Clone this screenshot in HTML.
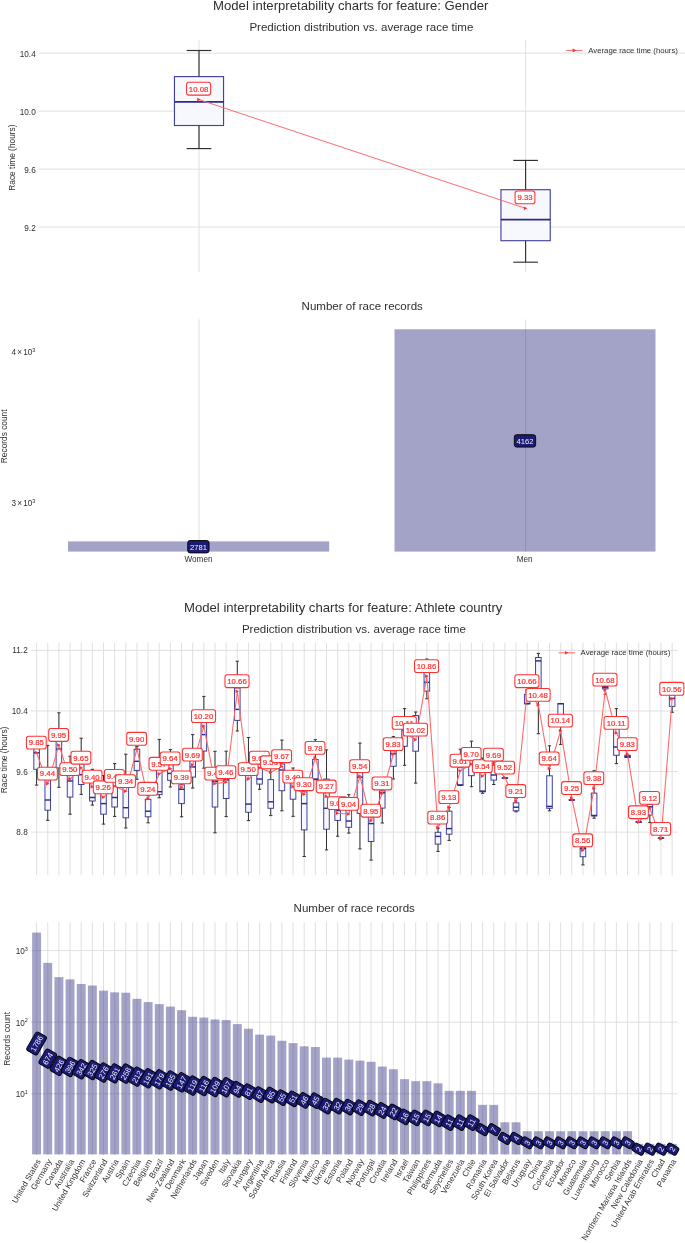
<!DOCTYPE html>
<html><head><meta charset="utf-8"><title>Model interpretability charts</title>
<style>html,body{margin:0;padding:0;background:#fff}svg{display:block}</style></head>
<body>
<svg width="685" height="1243" viewBox="0 0 685 1243" font-family='"Liberation Sans", sans-serif'>
<rect width="685" height="1243" fill="#fff"/>
<text x="350.70" y="9.70" font-size="13.15" text-anchor="middle" fill="#303030" >Model interpretability charts for feature: Gender</text>
<text x="361.40" y="30.70" font-size="11.56" text-anchor="middle" fill="#303030" >Prediction distribution vs. average race time</text>
<line x1="38.90" y1="53.10" x2="685.50" y2="53.10" stroke="#dcdcdc" stroke-width="0.9"/>
<text x="35.70" y="56.70" font-size="8.2" text-anchor="end" fill="#303030" >10.4</text>
<line x1="38.90" y1="111.20" x2="685.50" y2="111.20" stroke="#dcdcdc" stroke-width="0.9"/>
<text x="35.70" y="114.80" font-size="8.2" text-anchor="end" fill="#303030" >10.0</text>
<line x1="38.90" y1="169.20" x2="685.50" y2="169.20" stroke="#dcdcdc" stroke-width="0.9"/>
<text x="35.70" y="172.80" font-size="8.2" text-anchor="end" fill="#303030" >9.6</text>
<line x1="38.90" y1="227.00" x2="685.50" y2="227.00" stroke="#dcdcdc" stroke-width="0.9"/>
<text x="35.70" y="230.60" font-size="8.2" text-anchor="end" fill="#303030" >9.2</text>
<line x1="199.00" y1="40.20" x2="199.00" y2="272.50" stroke="#dcdcdc" stroke-width="0.9"/>
<line x1="525.60" y1="40.20" x2="525.60" y2="272.50" stroke="#dcdcdc" stroke-width="0.9"/>
<text transform="translate(14.90,157.60) rotate(-90)" font-size="8.33" text-anchor="middle" fill="#303030">Race time (hours)</text>
<rect x="174.45" y="76.60" width="49.10" height="48.90" fill="#f7f7fe" stroke="#43439a" stroke-width="1.15"/>
<line x1="199.00" y1="50.50" x2="199.00" y2="76.60" stroke="#303030" stroke-width="1.15"/>
<line x1="199.00" y1="125.50" x2="199.00" y2="148.60" stroke="#303030" stroke-width="1.15"/>
<line x1="186.72" y1="50.50" x2="211.28" y2="50.50" stroke="#303030" stroke-width="1.15"/>
<line x1="186.72" y1="148.60" x2="211.28" y2="148.60" stroke="#303030" stroke-width="1.15"/>
<line x1="174.45" y1="101.80" x2="223.55" y2="101.80" stroke="#2b2b88" stroke-width="1.8"/>
<rect x="500.95" y="189.70" width="49.30" height="51.00" fill="#f7f7fe" stroke="#43439a" stroke-width="1.15"/>
<line x1="525.60" y1="160.40" x2="525.60" y2="189.70" stroke="#303030" stroke-width="1.15"/>
<line x1="525.60" y1="240.70" x2="525.60" y2="262.20" stroke="#303030" stroke-width="1.15"/>
<line x1="513.27" y1="160.40" x2="537.93" y2="160.40" stroke="#303030" stroke-width="1.15"/>
<line x1="513.27" y1="262.20" x2="537.93" y2="262.20" stroke="#303030" stroke-width="1.15"/>
<line x1="500.95" y1="219.60" x2="550.25" y2="219.60" stroke="#2b2b88" stroke-width="1.8"/>
<polyline points="199.00,99.60 525.60,208.35" fill="none" stroke="#ff6a6a" stroke-width="1"/>
<polygon points="197.20,97.80 197.20,101.40 200.80,99.60" fill="#ff3030"/>
<polygon points="523.80,206.55 523.80,210.15 527.40,208.35" fill="#ff3030"/>
<rect x="186.58" y="82.30" width="24.04" height="12.8" rx="2.3" fill="#fff" stroke="#ff3030" stroke-width="1.05"/>
<text x="198.60" y="91.55" font-size="7.800000000000001" text-anchor="middle" fill="#ff3030" stroke="#ff3030" stroke-width="0.22">10.08</text>
<rect x="515.11" y="191.00" width="19.79" height="12.8" rx="2.3" fill="#fff" stroke="#ff3030" stroke-width="1.05"/>
<text x="525.00" y="200.25" font-size="7.800000000000001" text-anchor="middle" fill="#ff3030" stroke="#ff3030" stroke-width="0.22">9.33</text>
<line x1="566.30" y1="50.40" x2="582.60" y2="50.40" stroke="#ff6a6a" stroke-width="1.0"/>
<polygon points="572.65,48.60 572.65,52.20 576.25,50.40" fill="#ff3030"/>
<text x="588.30" y="53.05" font-size="7.78" text-anchor="start" fill="#303030" >Average race time (hours)</text>
<text x="362.20" y="310.20" font-size="11.56" text-anchor="middle" fill="#303030" >Number of race records</text>
<line x1="199.00" y1="319.30" x2="199.00" y2="551.60" stroke="#dcdcdc" stroke-width="0.9"/>
<line x1="525.60" y1="319.30" x2="525.60" y2="551.60" stroke="#dcdcdc" stroke-width="0.9"/>
<text x="35.40" y="354.70" font-size="8.2" text-anchor="end" fill="#303030">4<tspan dx="-1.1"> ×</tspan><tspan dx="-1.1"> 10</tspan><tspan font-size="5.6" dy="-3.2">3</tspan></text>
<text x="35.40" y="505.70" font-size="8.2" text-anchor="end" fill="#303030">3<tspan dx="-1.1"> ×</tspan><tspan dx="-1.1"> 10</tspan><tspan font-size="5.6" dy="-3.2">3</tspan></text>
<text transform="translate(6.50,436.30) rotate(-90)" font-size="8.33" text-anchor="middle" fill="#303030">Records count</text>
<rect x="68.0" y="541.4" width="261.2" height="10.20" fill="#a3a3c7"/>
<rect x="394.5" y="329.3" width="261.0" height="222.30" fill="#a3a3c7"/>
<line x1="199.00" y1="541.40" x2="199.00" y2="551.60" stroke="#8e8eb4" stroke-width="0.9"/>
<line x1="525.60" y1="329.30" x2="525.60" y2="551.60" stroke="#8e8eb4" stroke-width="0.9"/>
<g><rect x="187.74" y="540.50" width="21.31" height="12.4" rx="2.3" fill="#1b1b74" stroke="#000" stroke-width="0.9"/>
<text x="198.40" y="549.50" font-size="7.65" text-anchor="middle" fill="#f0f0fa" >2781</text>
</g>
<g><rect x="514.34" y="434.70" width="21.31" height="12.4" rx="2.3" fill="#1b1b74" stroke="#000" stroke-width="0.9"/>
<text x="525.00" y="443.70" font-size="7.65" text-anchor="middle" fill="#f0f0fa" >4162</text>
</g>
<text x="198.50" y="561.70" font-size="8.2" text-anchor="middle" fill="#303030" >Women</text>
<text x="524.70" y="561.80" font-size="8.2" text-anchor="middle" fill="#303030" >Men</text>
<text x="343.20" y="612.10" font-size="13.15" text-anchor="middle" fill="#303030" >Model interpretability charts for feature: Athlete country</text>
<text x="353.90" y="633.40" font-size="11.56" text-anchor="middle" fill="#303030" >Prediction distribution vs. average race time</text>
<line x1="31.00" y1="650.35" x2="677.70" y2="650.35" stroke="#dcdcdc" stroke-width="0.9"/>
<text x="27.70" y="653.30" font-size="8.2" text-anchor="end" fill="#303030" >11.2</text>
<line x1="31.00" y1="710.95" x2="677.70" y2="710.95" stroke="#dcdcdc" stroke-width="0.9"/>
<text x="27.70" y="713.90" font-size="8.2" text-anchor="end" fill="#303030" >10.4</text>
<line x1="31.00" y1="771.55" x2="677.70" y2="771.55" stroke="#dcdcdc" stroke-width="0.9"/>
<text x="27.70" y="774.50" font-size="8.2" text-anchor="end" fill="#303030" >9.6</text>
<line x1="31.00" y1="832.15" x2="677.70" y2="832.15" stroke="#dcdcdc" stroke-width="0.9"/>
<text x="27.70" y="835.10" font-size="8.2" text-anchor="end" fill="#303030" >8.8</text>
<line x1="36.60" y1="642.80" x2="36.60" y2="875.30" stroke="#dcdcdc" stroke-width="0.9"/>
<line x1="47.75" y1="642.80" x2="47.75" y2="875.30" stroke="#dcdcdc" stroke-width="0.9"/>
<line x1="58.90" y1="642.80" x2="58.90" y2="875.30" stroke="#dcdcdc" stroke-width="0.9"/>
<line x1="70.05" y1="642.80" x2="70.05" y2="875.30" stroke="#dcdcdc" stroke-width="0.9"/>
<line x1="81.20" y1="642.80" x2="81.20" y2="875.30" stroke="#dcdcdc" stroke-width="0.9"/>
<line x1="92.35" y1="642.80" x2="92.35" y2="875.30" stroke="#dcdcdc" stroke-width="0.9"/>
<line x1="103.50" y1="642.80" x2="103.50" y2="875.30" stroke="#dcdcdc" stroke-width="0.9"/>
<line x1="114.65" y1="642.80" x2="114.65" y2="875.30" stroke="#dcdcdc" stroke-width="0.9"/>
<line x1="125.80" y1="642.80" x2="125.80" y2="875.30" stroke="#dcdcdc" stroke-width="0.9"/>
<line x1="136.95" y1="642.80" x2="136.95" y2="875.30" stroke="#dcdcdc" stroke-width="0.9"/>
<line x1="148.10" y1="642.80" x2="148.10" y2="875.30" stroke="#dcdcdc" stroke-width="0.9"/>
<line x1="159.25" y1="642.80" x2="159.25" y2="875.30" stroke="#dcdcdc" stroke-width="0.9"/>
<line x1="170.40" y1="642.80" x2="170.40" y2="875.30" stroke="#dcdcdc" stroke-width="0.9"/>
<line x1="181.55" y1="642.80" x2="181.55" y2="875.30" stroke="#dcdcdc" stroke-width="0.9"/>
<line x1="192.70" y1="642.80" x2="192.70" y2="875.30" stroke="#dcdcdc" stroke-width="0.9"/>
<line x1="203.85" y1="642.80" x2="203.85" y2="875.30" stroke="#dcdcdc" stroke-width="0.9"/>
<line x1="215.00" y1="642.80" x2="215.00" y2="875.30" stroke="#dcdcdc" stroke-width="0.9"/>
<line x1="226.15" y1="642.80" x2="226.15" y2="875.30" stroke="#dcdcdc" stroke-width="0.9"/>
<line x1="237.30" y1="642.80" x2="237.30" y2="875.30" stroke="#dcdcdc" stroke-width="0.9"/>
<line x1="248.45" y1="642.80" x2="248.45" y2="875.30" stroke="#dcdcdc" stroke-width="0.9"/>
<line x1="259.60" y1="642.80" x2="259.60" y2="875.30" stroke="#dcdcdc" stroke-width="0.9"/>
<line x1="270.75" y1="642.80" x2="270.75" y2="875.30" stroke="#dcdcdc" stroke-width="0.9"/>
<line x1="281.90" y1="642.80" x2="281.90" y2="875.30" stroke="#dcdcdc" stroke-width="0.9"/>
<line x1="293.05" y1="642.80" x2="293.05" y2="875.30" stroke="#dcdcdc" stroke-width="0.9"/>
<line x1="304.20" y1="642.80" x2="304.20" y2="875.30" stroke="#dcdcdc" stroke-width="0.9"/>
<line x1="315.35" y1="642.80" x2="315.35" y2="875.30" stroke="#dcdcdc" stroke-width="0.9"/>
<line x1="326.50" y1="642.80" x2="326.50" y2="875.30" stroke="#dcdcdc" stroke-width="0.9"/>
<line x1="337.65" y1="642.80" x2="337.65" y2="875.30" stroke="#dcdcdc" stroke-width="0.9"/>
<line x1="348.80" y1="642.80" x2="348.80" y2="875.30" stroke="#dcdcdc" stroke-width="0.9"/>
<line x1="359.95" y1="642.80" x2="359.95" y2="875.30" stroke="#dcdcdc" stroke-width="0.9"/>
<line x1="371.10" y1="642.80" x2="371.10" y2="875.30" stroke="#dcdcdc" stroke-width="0.9"/>
<line x1="382.25" y1="642.80" x2="382.25" y2="875.30" stroke="#dcdcdc" stroke-width="0.9"/>
<line x1="393.40" y1="642.80" x2="393.40" y2="875.30" stroke="#dcdcdc" stroke-width="0.9"/>
<line x1="404.55" y1="642.80" x2="404.55" y2="875.30" stroke="#dcdcdc" stroke-width="0.9"/>
<line x1="415.70" y1="642.80" x2="415.70" y2="875.30" stroke="#dcdcdc" stroke-width="0.9"/>
<line x1="426.85" y1="642.80" x2="426.85" y2="875.30" stroke="#dcdcdc" stroke-width="0.9"/>
<line x1="438.00" y1="642.80" x2="438.00" y2="875.30" stroke="#dcdcdc" stroke-width="0.9"/>
<line x1="449.15" y1="642.80" x2="449.15" y2="875.30" stroke="#dcdcdc" stroke-width="0.9"/>
<line x1="460.30" y1="642.80" x2="460.30" y2="875.30" stroke="#dcdcdc" stroke-width="0.9"/>
<line x1="471.45" y1="642.80" x2="471.45" y2="875.30" stroke="#dcdcdc" stroke-width="0.9"/>
<line x1="482.60" y1="642.80" x2="482.60" y2="875.30" stroke="#dcdcdc" stroke-width="0.9"/>
<line x1="493.75" y1="642.80" x2="493.75" y2="875.30" stroke="#dcdcdc" stroke-width="0.9"/>
<line x1="504.90" y1="642.80" x2="504.90" y2="875.30" stroke="#dcdcdc" stroke-width="0.9"/>
<line x1="516.05" y1="642.80" x2="516.05" y2="875.30" stroke="#dcdcdc" stroke-width="0.9"/>
<line x1="527.20" y1="642.80" x2="527.20" y2="875.30" stroke="#dcdcdc" stroke-width="0.9"/>
<line x1="538.35" y1="642.80" x2="538.35" y2="875.30" stroke="#dcdcdc" stroke-width="0.9"/>
<line x1="549.50" y1="642.80" x2="549.50" y2="875.30" stroke="#dcdcdc" stroke-width="0.9"/>
<line x1="560.65" y1="642.80" x2="560.65" y2="875.30" stroke="#dcdcdc" stroke-width="0.9"/>
<line x1="571.80" y1="642.80" x2="571.80" y2="875.30" stroke="#dcdcdc" stroke-width="0.9"/>
<line x1="582.95" y1="642.80" x2="582.95" y2="875.30" stroke="#dcdcdc" stroke-width="0.9"/>
<line x1="594.10" y1="642.80" x2="594.10" y2="875.30" stroke="#dcdcdc" stroke-width="0.9"/>
<line x1="605.25" y1="642.80" x2="605.25" y2="875.30" stroke="#dcdcdc" stroke-width="0.9"/>
<line x1="616.40" y1="642.80" x2="616.40" y2="875.30" stroke="#dcdcdc" stroke-width="0.9"/>
<line x1="627.55" y1="642.80" x2="627.55" y2="875.30" stroke="#dcdcdc" stroke-width="0.9"/>
<line x1="638.70" y1="642.80" x2="638.70" y2="875.30" stroke="#dcdcdc" stroke-width="0.9"/>
<line x1="649.85" y1="642.80" x2="649.85" y2="875.30" stroke="#dcdcdc" stroke-width="0.9"/>
<line x1="661.00" y1="642.80" x2="661.00" y2="875.30" stroke="#dcdcdc" stroke-width="0.9"/>
<line x1="672.15" y1="642.80" x2="672.15" y2="875.30" stroke="#dcdcdc" stroke-width="0.9"/>
<text transform="translate(6.70,759.90) rotate(-90)" font-size="8.4" text-anchor="middle" fill="#303030">Race time (hours)</text>
<rect x="33.81" y="745.00" width="5.58" height="24.30" fill="#f7f7fe" stroke="#43439a" stroke-width="1.0"/>
<line x1="36.60" y1="738.00" x2="36.60" y2="745.00" stroke="#303030" stroke-width="1.0"/>
<line x1="36.60" y1="769.30" x2="36.60" y2="785.10" stroke="#303030" stroke-width="1.0"/>
<line x1="34.93" y1="738.00" x2="38.27" y2="738.00" stroke="#303030" stroke-width="1.0"/>
<line x1="34.93" y1="785.10" x2="38.27" y2="785.10" stroke="#303030" stroke-width="1.0"/>
<line x1="33.81" y1="752.80" x2="39.39" y2="752.80" stroke="#2b2b88" stroke-width="1.45"/>
<rect x="44.96" y="770.00" width="5.58" height="40.20" fill="#f7f7fe" stroke="#43439a" stroke-width="1.0"/>
<line x1="47.75" y1="745.40" x2="47.75" y2="770.00" stroke="#303030" stroke-width="1.0"/>
<line x1="47.75" y1="810.20" x2="47.75" y2="820.30" stroke="#303030" stroke-width="1.0"/>
<line x1="46.08" y1="745.40" x2="49.42" y2="745.40" stroke="#303030" stroke-width="1.0"/>
<line x1="46.08" y1="820.30" x2="49.42" y2="820.30" stroke="#303030" stroke-width="1.0"/>
<line x1="44.96" y1="800.00" x2="50.54" y2="800.00" stroke="#2b2b88" stroke-width="1.45"/>
<rect x="56.11" y="741.00" width="5.58" height="26.90" fill="#f7f7fe" stroke="#43439a" stroke-width="1.0"/>
<line x1="58.90" y1="712.80" x2="58.90" y2="741.00" stroke="#303030" stroke-width="1.0"/>
<line x1="58.90" y1="767.90" x2="58.90" y2="787.30" stroke="#303030" stroke-width="1.0"/>
<line x1="57.23" y1="712.80" x2="60.57" y2="712.80" stroke="#303030" stroke-width="1.0"/>
<line x1="57.23" y1="787.30" x2="60.57" y2="787.30" stroke="#303030" stroke-width="1.0"/>
<line x1="56.11" y1="748.90" x2="61.69" y2="748.90" stroke="#2b2b88" stroke-width="1.45"/>
<rect x="67.26" y="768.00" width="5.58" height="29.10" fill="#f7f7fe" stroke="#43439a" stroke-width="1.0"/>
<line x1="70.05" y1="756.20" x2="70.05" y2="768.00" stroke="#303030" stroke-width="1.0"/>
<line x1="70.05" y1="797.10" x2="70.05" y2="814.20" stroke="#303030" stroke-width="1.0"/>
<line x1="68.38" y1="756.20" x2="71.72" y2="756.20" stroke="#303030" stroke-width="1.0"/>
<line x1="68.38" y1="814.20" x2="71.72" y2="814.20" stroke="#303030" stroke-width="1.0"/>
<line x1="67.26" y1="781.00" x2="72.84" y2="781.00" stroke="#2b2b88" stroke-width="1.45"/>
<rect x="78.41" y="762.00" width="5.58" height="22.50" fill="#f7f7fe" stroke="#43439a" stroke-width="1.0"/>
<line x1="81.20" y1="738.20" x2="81.20" y2="762.00" stroke="#303030" stroke-width="1.0"/>
<line x1="81.20" y1="784.50" x2="81.20" y2="794.40" stroke="#303030" stroke-width="1.0"/>
<line x1="79.53" y1="738.20" x2="82.87" y2="738.20" stroke="#303030" stroke-width="1.0"/>
<line x1="79.53" y1="794.40" x2="82.87" y2="794.40" stroke="#303030" stroke-width="1.0"/>
<line x1="78.41" y1="774.70" x2="83.99" y2="774.70" stroke="#2b2b88" stroke-width="1.45"/>
<rect x="89.56" y="775.00" width="5.58" height="26.00" fill="#f7f7fe" stroke="#43439a" stroke-width="1.0"/>
<line x1="92.35" y1="769.30" x2="92.35" y2="775.00" stroke="#303030" stroke-width="1.0"/>
<line x1="92.35" y1="801.00" x2="92.35" y2="805.10" stroke="#303030" stroke-width="1.0"/>
<line x1="90.68" y1="769.30" x2="94.02" y2="769.30" stroke="#303030" stroke-width="1.0"/>
<line x1="90.68" y1="805.10" x2="94.02" y2="805.10" stroke="#303030" stroke-width="1.0"/>
<line x1="89.56" y1="797.50" x2="95.14" y2="797.50" stroke="#2b2b88" stroke-width="1.45"/>
<rect x="100.71" y="786.00" width="5.58" height="28.20" fill="#f7f7fe" stroke="#43439a" stroke-width="1.0"/>
<line x1="103.50" y1="775.60" x2="103.50" y2="786.00" stroke="#303030" stroke-width="1.0"/>
<line x1="103.50" y1="814.20" x2="103.50" y2="824.10" stroke="#303030" stroke-width="1.0"/>
<line x1="101.83" y1="775.60" x2="105.17" y2="775.60" stroke="#303030" stroke-width="1.0"/>
<line x1="101.83" y1="824.10" x2="105.17" y2="824.10" stroke="#303030" stroke-width="1.0"/>
<line x1="100.71" y1="803.60" x2="106.29" y2="803.60" stroke="#2b2b88" stroke-width="1.45"/>
<rect x="111.86" y="776.00" width="5.58" height="31.00" fill="#f7f7fe" stroke="#43439a" stroke-width="1.0"/>
<line x1="114.65" y1="763.60" x2="114.65" y2="776.00" stroke="#303030" stroke-width="1.0"/>
<line x1="114.65" y1="807.00" x2="114.65" y2="816.40" stroke="#303030" stroke-width="1.0"/>
<line x1="112.98" y1="763.60" x2="116.32" y2="763.60" stroke="#303030" stroke-width="1.0"/>
<line x1="112.98" y1="816.40" x2="116.32" y2="816.40" stroke="#303030" stroke-width="1.0"/>
<line x1="111.86" y1="797.50" x2="117.44" y2="797.50" stroke="#2b2b88" stroke-width="1.45"/>
<rect x="123.01" y="782.00" width="5.58" height="35.80" fill="#f7f7fe" stroke="#43439a" stroke-width="1.0"/>
<line x1="125.80" y1="754.20" x2="125.80" y2="782.00" stroke="#303030" stroke-width="1.0"/>
<line x1="125.80" y1="817.80" x2="125.80" y2="828.00" stroke="#303030" stroke-width="1.0"/>
<line x1="124.13" y1="754.20" x2="127.47" y2="754.20" stroke="#303030" stroke-width="1.0"/>
<line x1="124.13" y1="828.00" x2="127.47" y2="828.00" stroke="#303030" stroke-width="1.0"/>
<line x1="123.01" y1="807.70" x2="128.59" y2="807.70" stroke="#2b2b88" stroke-width="1.45"/>
<rect x="134.16" y="749.30" width="5.58" height="21.10" fill="#f7f7fe" stroke="#43439a" stroke-width="1.0"/>
<line x1="136.95" y1="746.40" x2="136.95" y2="749.30" stroke="#303030" stroke-width="1.0"/>
<line x1="136.95" y1="770.40" x2="136.95" y2="779.30" stroke="#303030" stroke-width="1.0"/>
<line x1="135.28" y1="746.40" x2="138.62" y2="746.40" stroke="#303030" stroke-width="1.0"/>
<line x1="135.28" y1="779.30" x2="138.62" y2="779.30" stroke="#303030" stroke-width="1.0"/>
<line x1="134.16" y1="761.30" x2="139.74" y2="761.30" stroke="#2b2b88" stroke-width="1.45"/>
<rect x="145.31" y="799.30" width="5.58" height="17.50" fill="#f7f7fe" stroke="#43439a" stroke-width="1.0"/>
<line x1="148.10" y1="795.60" x2="148.10" y2="799.30" stroke="#303030" stroke-width="1.0"/>
<line x1="148.10" y1="816.80" x2="148.10" y2="822.80" stroke="#303030" stroke-width="1.0"/>
<line x1="146.43" y1="795.60" x2="149.77" y2="795.60" stroke="#303030" stroke-width="1.0"/>
<line x1="146.43" y1="822.80" x2="149.77" y2="822.80" stroke="#303030" stroke-width="1.0"/>
<line x1="145.31" y1="811.20" x2="150.89" y2="811.20" stroke="#2b2b88" stroke-width="1.45"/>
<rect x="156.46" y="768.00" width="5.58" height="26.60" fill="#f7f7fe" stroke="#43439a" stroke-width="1.0"/>
<line x1="159.25" y1="739.40" x2="159.25" y2="768.00" stroke="#303030" stroke-width="1.0"/>
<line x1="159.25" y1="794.60" x2="159.25" y2="797.80" stroke="#303030" stroke-width="1.0"/>
<line x1="157.58" y1="739.40" x2="160.92" y2="739.40" stroke="#303030" stroke-width="1.0"/>
<line x1="157.58" y1="797.80" x2="160.92" y2="797.80" stroke="#303030" stroke-width="1.0"/>
<line x1="156.46" y1="791.70" x2="162.04" y2="791.70" stroke="#2b2b88" stroke-width="1.45"/>
<rect x="167.61" y="764.00" width="5.58" height="16.30" fill="#f7f7fe" stroke="#43439a" stroke-width="1.0"/>
<line x1="170.40" y1="749.60" x2="170.40" y2="764.00" stroke="#303030" stroke-width="1.0"/>
<line x1="170.40" y1="780.30" x2="170.40" y2="787.00" stroke="#303030" stroke-width="1.0"/>
<line x1="168.73" y1="749.60" x2="172.07" y2="749.60" stroke="#303030" stroke-width="1.0"/>
<line x1="168.73" y1="787.00" x2="172.07" y2="787.00" stroke="#303030" stroke-width="1.0"/>
<line x1="167.61" y1="773.40" x2="173.19" y2="773.40" stroke="#2b2b88" stroke-width="1.45"/>
<rect x="178.76" y="784.70" width="5.58" height="18.90" fill="#f7f7fe" stroke="#43439a" stroke-width="1.0"/>
<line x1="181.55" y1="778.00" x2="181.55" y2="784.70" stroke="#303030" stroke-width="1.0"/>
<line x1="181.55" y1="803.60" x2="181.55" y2="816.80" stroke="#303030" stroke-width="1.0"/>
<line x1="179.88" y1="778.00" x2="183.22" y2="778.00" stroke="#303030" stroke-width="1.0"/>
<line x1="179.88" y1="816.80" x2="183.22" y2="816.80" stroke="#303030" stroke-width="1.0"/>
<line x1="178.76" y1="789.30" x2="184.34" y2="789.30" stroke="#2b2b88" stroke-width="1.45"/>
<rect x="189.91" y="759.00" width="5.58" height="18.10" fill="#f7f7fe" stroke="#43439a" stroke-width="1.0"/>
<line x1="192.70" y1="734.60" x2="192.70" y2="759.00" stroke="#303030" stroke-width="1.0"/>
<line x1="192.70" y1="777.10" x2="192.70" y2="788.00" stroke="#303030" stroke-width="1.0"/>
<line x1="191.03" y1="734.60" x2="194.37" y2="734.60" stroke="#303030" stroke-width="1.0"/>
<line x1="191.03" y1="788.00" x2="194.37" y2="788.00" stroke="#303030" stroke-width="1.0"/>
<line x1="189.91" y1="766.90" x2="195.49" y2="766.90" stroke="#2b2b88" stroke-width="1.45"/>
<rect x="201.06" y="721.00" width="5.58" height="30.10" fill="#f7f7fe" stroke="#43439a" stroke-width="1.0"/>
<line x1="203.85" y1="696.40" x2="203.85" y2="721.00" stroke="#303030" stroke-width="1.0"/>
<line x1="203.85" y1="751.10" x2="203.85" y2="768.20" stroke="#303030" stroke-width="1.0"/>
<line x1="202.18" y1="696.40" x2="205.52" y2="696.40" stroke="#303030" stroke-width="1.0"/>
<line x1="202.18" y1="768.20" x2="205.52" y2="768.20" stroke="#303030" stroke-width="1.0"/>
<line x1="201.06" y1="734.60" x2="206.64" y2="734.60" stroke="#2b2b88" stroke-width="1.45"/>
<rect x="212.21" y="780.20" width="5.58" height="26.80" fill="#f7f7fe" stroke="#43439a" stroke-width="1.0"/>
<line x1="215.00" y1="751.30" x2="215.00" y2="780.20" stroke="#303030" stroke-width="1.0"/>
<line x1="215.00" y1="807.00" x2="215.00" y2="832.80" stroke="#303030" stroke-width="1.0"/>
<line x1="213.33" y1="751.30" x2="216.67" y2="751.30" stroke="#303030" stroke-width="1.0"/>
<line x1="213.33" y1="832.80" x2="216.67" y2="832.80" stroke="#303030" stroke-width="1.0"/>
<line x1="212.21" y1="781.60" x2="217.79" y2="781.60" stroke="#2b2b88" stroke-width="1.45"/>
<rect x="223.36" y="778.00" width="5.58" height="20.50" fill="#f7f7fe" stroke="#43439a" stroke-width="1.0"/>
<line x1="226.15" y1="751.20" x2="226.15" y2="778.00" stroke="#303030" stroke-width="1.0"/>
<line x1="226.15" y1="798.50" x2="226.15" y2="816.60" stroke="#303030" stroke-width="1.0"/>
<line x1="224.48" y1="751.20" x2="227.82" y2="751.20" stroke="#303030" stroke-width="1.0"/>
<line x1="224.48" y1="816.60" x2="227.82" y2="816.60" stroke="#303030" stroke-width="1.0"/>
<line x1="223.36" y1="779.90" x2="228.94" y2="779.90" stroke="#2b2b88" stroke-width="1.45"/>
<rect x="234.51" y="688.00" width="5.58" height="32.40" fill="#f7f7fe" stroke="#43439a" stroke-width="1.0"/>
<line x1="237.30" y1="661.20" x2="237.30" y2="688.00" stroke="#303030" stroke-width="1.0"/>
<line x1="237.30" y1="720.40" x2="237.30" y2="731.00" stroke="#303030" stroke-width="1.0"/>
<line x1="235.63" y1="661.20" x2="238.97" y2="661.20" stroke="#303030" stroke-width="1.0"/>
<line x1="235.63" y1="731.00" x2="238.97" y2="731.00" stroke="#303030" stroke-width="1.0"/>
<line x1="234.51" y1="709.40" x2="240.09" y2="709.40" stroke="#2b2b88" stroke-width="1.45"/>
<rect x="245.66" y="775.00" width="5.58" height="37.30" fill="#f7f7fe" stroke="#43439a" stroke-width="1.0"/>
<line x1="248.45" y1="737.60" x2="248.45" y2="775.00" stroke="#303030" stroke-width="1.0"/>
<line x1="248.45" y1="812.30" x2="248.45" y2="820.60" stroke="#303030" stroke-width="1.0"/>
<line x1="246.78" y1="737.60" x2="250.12" y2="737.60" stroke="#303030" stroke-width="1.0"/>
<line x1="246.78" y1="820.60" x2="250.12" y2="820.60" stroke="#303030" stroke-width="1.0"/>
<line x1="245.66" y1="804.10" x2="251.24" y2="804.10" stroke="#2b2b88" stroke-width="1.45"/>
<rect x="256.81" y="764.00" width="5.58" height="20.10" fill="#f7f7fe" stroke="#43439a" stroke-width="1.0"/>
<line x1="259.60" y1="755.00" x2="259.60" y2="764.00" stroke="#303030" stroke-width="1.0"/>
<line x1="259.60" y1="784.10" x2="259.60" y2="789.30" stroke="#303030" stroke-width="1.0"/>
<line x1="257.93" y1="755.00" x2="261.27" y2="755.00" stroke="#303030" stroke-width="1.0"/>
<line x1="257.93" y1="789.30" x2="261.27" y2="789.30" stroke="#303030" stroke-width="1.0"/>
<line x1="256.81" y1="779.00" x2="262.39" y2="779.00" stroke="#2b2b88" stroke-width="1.45"/>
<rect x="267.96" y="779.60" width="5.58" height="28.70" fill="#f7f7fe" stroke="#43439a" stroke-width="1.0"/>
<line x1="270.75" y1="766.00" x2="270.75" y2="779.60" stroke="#303030" stroke-width="1.0"/>
<line x1="270.75" y1="808.30" x2="270.75" y2="815.60" stroke="#303030" stroke-width="1.0"/>
<line x1="269.08" y1="766.00" x2="272.42" y2="766.00" stroke="#303030" stroke-width="1.0"/>
<line x1="269.08" y1="815.60" x2="272.42" y2="815.60" stroke="#303030" stroke-width="1.0"/>
<line x1="267.96" y1="801.80" x2="273.54" y2="801.80" stroke="#2b2b88" stroke-width="1.45"/>
<rect x="279.11" y="764.00" width="5.58" height="26.70" fill="#f7f7fe" stroke="#43439a" stroke-width="1.0"/>
<line x1="281.90" y1="740.10" x2="281.90" y2="764.00" stroke="#303030" stroke-width="1.0"/>
<line x1="281.90" y1="790.70" x2="281.90" y2="810.80" stroke="#303030" stroke-width="1.0"/>
<line x1="280.23" y1="740.10" x2="283.57" y2="740.10" stroke="#303030" stroke-width="1.0"/>
<line x1="280.23" y1="810.80" x2="283.57" y2="810.80" stroke="#303030" stroke-width="1.0"/>
<line x1="279.11" y1="770.00" x2="284.69" y2="770.00" stroke="#2b2b88" stroke-width="1.45"/>
<rect x="290.26" y="777.00" width="5.58" height="22.20" fill="#f7f7fe" stroke="#43439a" stroke-width="1.0"/>
<line x1="293.05" y1="768.00" x2="293.05" y2="777.00" stroke="#303030" stroke-width="1.0"/>
<line x1="293.05" y1="799.20" x2="293.05" y2="816.30" stroke="#303030" stroke-width="1.0"/>
<line x1="291.38" y1="768.00" x2="294.72" y2="768.00" stroke="#303030" stroke-width="1.0"/>
<line x1="291.38" y1="816.30" x2="294.72" y2="816.30" stroke="#303030" stroke-width="1.0"/>
<line x1="290.26" y1="781.00" x2="295.84" y2="781.00" stroke="#2b2b88" stroke-width="1.45"/>
<rect x="301.41" y="791.80" width="5.58" height="38.10" fill="#f7f7fe" stroke="#43439a" stroke-width="1.0"/>
<line x1="304.20" y1="785.00" x2="304.20" y2="791.80" stroke="#303030" stroke-width="1.0"/>
<line x1="304.20" y1="829.90" x2="304.20" y2="856.50" stroke="#303030" stroke-width="1.0"/>
<line x1="302.53" y1="785.00" x2="305.87" y2="785.00" stroke="#303030" stroke-width="1.0"/>
<line x1="302.53" y1="856.50" x2="305.87" y2="856.50" stroke="#303030" stroke-width="1.0"/>
<line x1="301.41" y1="803.60" x2="306.99" y2="803.60" stroke="#2b2b88" stroke-width="1.45"/>
<rect x="312.56" y="759.40" width="5.58" height="20.20" fill="#f7f7fe" stroke="#43439a" stroke-width="1.0"/>
<line x1="315.35" y1="739.70" x2="315.35" y2="759.40" stroke="#303030" stroke-width="1.0"/>
<line x1="313.68" y1="739.70" x2="317.02" y2="739.70" stroke="#303030" stroke-width="1.0"/>
<line x1="313.68" y1="779.60" x2="317.02" y2="779.60" stroke="#303030" stroke-width="1.0"/>
<line x1="312.56" y1="779.10" x2="318.14" y2="779.10" stroke="#2b2b88" stroke-width="1.45"/>
<rect x="323.71" y="779.10" width="5.58" height="50.10" fill="#f7f7fe" stroke="#43439a" stroke-width="1.0"/>
<line x1="326.50" y1="749.90" x2="326.50" y2="779.10" stroke="#303030" stroke-width="1.0"/>
<line x1="326.50" y1="829.20" x2="326.50" y2="849.90" stroke="#303030" stroke-width="1.0"/>
<line x1="324.83" y1="749.90" x2="328.17" y2="749.90" stroke="#303030" stroke-width="1.0"/>
<line x1="324.83" y1="849.90" x2="328.17" y2="849.90" stroke="#303030" stroke-width="1.0"/>
<line x1="323.71" y1="808.30" x2="329.29" y2="808.30" stroke="#2b2b88" stroke-width="1.45"/>
<rect x="334.86" y="809.80" width="5.58" height="10.60" fill="#f7f7fe" stroke="#43439a" stroke-width="1.0"/>
<line x1="337.65" y1="803.00" x2="337.65" y2="809.80" stroke="#303030" stroke-width="1.0"/>
<line x1="337.65" y1="820.40" x2="337.65" y2="836.20" stroke="#303030" stroke-width="1.0"/>
<line x1="335.98" y1="803.00" x2="339.32" y2="803.00" stroke="#303030" stroke-width="1.0"/>
<line x1="335.98" y1="836.20" x2="339.32" y2="836.20" stroke="#303030" stroke-width="1.0"/>
<line x1="334.86" y1="810.50" x2="340.44" y2="810.50" stroke="#2b2b88" stroke-width="1.45"/>
<rect x="346.01" y="809.80" width="5.58" height="17.50" fill="#f7f7fe" stroke="#43439a" stroke-width="1.0"/>
<line x1="348.80" y1="794.70" x2="348.80" y2="809.80" stroke="#303030" stroke-width="1.0"/>
<line x1="348.80" y1="827.30" x2="348.80" y2="833.10" stroke="#303030" stroke-width="1.0"/>
<line x1="347.13" y1="794.70" x2="350.47" y2="794.70" stroke="#303030" stroke-width="1.0"/>
<line x1="347.13" y1="833.10" x2="350.47" y2="833.10" stroke="#303030" stroke-width="1.0"/>
<line x1="346.01" y1="821.00" x2="351.59" y2="821.00" stroke="#2b2b88" stroke-width="1.45"/>
<rect x="357.16" y="772.60" width="5.58" height="40.80" fill="#f7f7fe" stroke="#43439a" stroke-width="1.0"/>
<line x1="359.95" y1="743.10" x2="359.95" y2="772.60" stroke="#303030" stroke-width="1.0"/>
<line x1="359.95" y1="813.40" x2="359.95" y2="848.90" stroke="#303030" stroke-width="1.0"/>
<line x1="358.28" y1="743.10" x2="361.62" y2="743.10" stroke="#303030" stroke-width="1.0"/>
<line x1="358.28" y1="848.90" x2="361.62" y2="848.90" stroke="#303030" stroke-width="1.0"/>
<line x1="357.16" y1="777.20" x2="362.74" y2="777.20" stroke="#2b2b88" stroke-width="1.45"/>
<rect x="368.31" y="817.10" width="5.58" height="24.40" fill="#f7f7fe" stroke="#43439a" stroke-width="1.0"/>
<line x1="371.10" y1="810.00" x2="371.10" y2="817.10" stroke="#303030" stroke-width="1.0"/>
<line x1="371.10" y1="841.50" x2="371.10" y2="860.10" stroke="#303030" stroke-width="1.0"/>
<line x1="369.43" y1="810.00" x2="372.77" y2="810.00" stroke="#303030" stroke-width="1.0"/>
<line x1="369.43" y1="860.10" x2="372.77" y2="860.10" stroke="#303030" stroke-width="1.0"/>
<line x1="368.31" y1="823.60" x2="373.89" y2="823.60" stroke="#2b2b88" stroke-width="1.45"/>
<rect x="379.46" y="790.80" width="5.58" height="17.30" fill="#f7f7fe" stroke="#43439a" stroke-width="1.0"/>
<line x1="382.25" y1="783.00" x2="382.25" y2="790.80" stroke="#303030" stroke-width="1.0"/>
<line x1="382.25" y1="808.10" x2="382.25" y2="823.00" stroke="#303030" stroke-width="1.0"/>
<line x1="380.58" y1="783.00" x2="383.92" y2="783.00" stroke="#303030" stroke-width="1.0"/>
<line x1="380.58" y1="823.00" x2="383.92" y2="823.00" stroke="#303030" stroke-width="1.0"/>
<line x1="379.46" y1="792.60" x2="385.04" y2="792.60" stroke="#2b2b88" stroke-width="1.45"/>
<rect x="390.61" y="750.90" width="5.58" height="15.40" fill="#f7f7fe" stroke="#43439a" stroke-width="1.0"/>
<line x1="393.40" y1="736.60" x2="393.40" y2="750.90" stroke="#303030" stroke-width="1.0"/>
<line x1="393.40" y1="766.30" x2="393.40" y2="779.00" stroke="#303030" stroke-width="1.0"/>
<line x1="391.73" y1="736.60" x2="395.07" y2="736.60" stroke="#303030" stroke-width="1.0"/>
<line x1="391.73" y1="779.00" x2="395.07" y2="779.00" stroke="#303030" stroke-width="1.0"/>
<line x1="390.61" y1="753.60" x2="396.19" y2="753.60" stroke="#2b2b88" stroke-width="1.45"/>
<rect x="401.76" y="725.00" width="5.58" height="21.30" fill="#f7f7fe" stroke="#43439a" stroke-width="1.0"/>
<line x1="404.55" y1="708.60" x2="404.55" y2="725.00" stroke="#303030" stroke-width="1.0"/>
<line x1="404.55" y1="746.30" x2="404.55" y2="765.30" stroke="#303030" stroke-width="1.0"/>
<line x1="402.88" y1="708.60" x2="406.22" y2="708.60" stroke="#303030" stroke-width="1.0"/>
<line x1="402.88" y1="765.30" x2="406.22" y2="765.30" stroke="#303030" stroke-width="1.0"/>
<line x1="401.76" y1="730.00" x2="407.34" y2="730.00" stroke="#2b2b88" stroke-width="1.45"/>
<rect x="412.91" y="715.60" width="5.58" height="35.60" fill="#f7f7fe" stroke="#43439a" stroke-width="1.0"/>
<line x1="415.70" y1="712.00" x2="415.70" y2="715.60" stroke="#303030" stroke-width="1.0"/>
<line x1="415.70" y1="751.20" x2="415.70" y2="783.10" stroke="#303030" stroke-width="1.0"/>
<line x1="414.03" y1="712.00" x2="417.37" y2="712.00" stroke="#303030" stroke-width="1.0"/>
<line x1="414.03" y1="783.10" x2="417.37" y2="783.10" stroke="#303030" stroke-width="1.0"/>
<line x1="412.91" y1="729.00" x2="418.49" y2="729.00" stroke="#2b2b88" stroke-width="1.45"/>
<rect x="424.06" y="672.40" width="5.58" height="18.70" fill="#f7f7fe" stroke="#43439a" stroke-width="1.0"/>
<line x1="426.85" y1="659.00" x2="426.85" y2="672.40" stroke="#303030" stroke-width="1.0"/>
<line x1="426.85" y1="691.10" x2="426.85" y2="698.80" stroke="#303030" stroke-width="1.0"/>
<line x1="425.18" y1="659.00" x2="428.52" y2="659.00" stroke="#303030" stroke-width="1.0"/>
<line x1="425.18" y1="698.80" x2="428.52" y2="698.80" stroke="#303030" stroke-width="1.0"/>
<line x1="424.06" y1="682.30" x2="429.64" y2="682.30" stroke="#2b2b88" stroke-width="1.45"/>
<rect x="435.21" y="832.30" width="5.58" height="11.80" fill="#f7f7fe" stroke="#43439a" stroke-width="1.0"/>
<line x1="438.00" y1="828.30" x2="438.00" y2="832.30" stroke="#303030" stroke-width="1.0"/>
<line x1="438.00" y1="844.10" x2="438.00" y2="851.40" stroke="#303030" stroke-width="1.0"/>
<line x1="436.33" y1="828.30" x2="439.67" y2="828.30" stroke="#303030" stroke-width="1.0"/>
<line x1="436.33" y1="851.40" x2="439.67" y2="851.40" stroke="#303030" stroke-width="1.0"/>
<line x1="435.21" y1="836.40" x2="440.79" y2="836.40" stroke="#2b2b88" stroke-width="1.45"/>
<rect x="446.36" y="811.20" width="5.58" height="23.00" fill="#f7f7fe" stroke="#43439a" stroke-width="1.0"/>
<line x1="449.15" y1="807.40" x2="449.15" y2="811.20" stroke="#303030" stroke-width="1.0"/>
<line x1="449.15" y1="834.20" x2="449.15" y2="840.40" stroke="#303030" stroke-width="1.0"/>
<line x1="447.48" y1="807.40" x2="450.82" y2="807.40" stroke="#303030" stroke-width="1.0"/>
<line x1="447.48" y1="840.40" x2="450.82" y2="840.40" stroke="#303030" stroke-width="1.0"/>
<line x1="446.36" y1="828.60" x2="451.94" y2="828.60" stroke="#2b2b88" stroke-width="1.45"/>
<rect x="457.51" y="767.70" width="5.58" height="17.60" fill="#f7f7fe" stroke="#43439a" stroke-width="1.0"/>
<line x1="460.30" y1="749.20" x2="460.30" y2="767.70" stroke="#303030" stroke-width="1.0"/>
<line x1="458.63" y1="749.20" x2="461.97" y2="749.20" stroke="#303030" stroke-width="1.0"/>
<line x1="458.63" y1="785.30" x2="461.97" y2="785.30" stroke="#303030" stroke-width="1.0"/>
<line x1="457.51" y1="785.00" x2="463.09" y2="785.00" stroke="#2b2b88" stroke-width="1.45"/>
<rect x="468.66" y="760.00" width="5.58" height="15.70" fill="#f7f7fe" stroke="#43439a" stroke-width="1.0"/>
<line x1="471.45" y1="741.20" x2="471.45" y2="760.00" stroke="#303030" stroke-width="1.0"/>
<line x1="471.45" y1="775.70" x2="471.45" y2="786.70" stroke="#303030" stroke-width="1.0"/>
<line x1="469.78" y1="741.20" x2="473.12" y2="741.20" stroke="#303030" stroke-width="1.0"/>
<line x1="469.78" y1="786.70" x2="473.12" y2="786.70" stroke="#303030" stroke-width="1.0"/>
<line x1="468.66" y1="764.40" x2="474.24" y2="764.40" stroke="#2b2b88" stroke-width="1.45"/>
<rect x="479.81" y="772.00" width="5.58" height="19.80" fill="#f7f7fe" stroke="#43439a" stroke-width="1.0"/>
<line x1="482.60" y1="758.00" x2="482.60" y2="772.00" stroke="#303030" stroke-width="1.0"/>
<line x1="482.60" y1="791.80" x2="482.60" y2="793.30" stroke="#303030" stroke-width="1.0"/>
<line x1="480.93" y1="758.00" x2="484.27" y2="758.00" stroke="#303030" stroke-width="1.0"/>
<line x1="480.93" y1="793.30" x2="484.27" y2="793.30" stroke="#303030" stroke-width="1.0"/>
<line x1="479.81" y1="791.10" x2="485.39" y2="791.10" stroke="#2b2b88" stroke-width="1.45"/>
<rect x="490.96" y="765.00" width="5.58" height="15.10" fill="#f7f7fe" stroke="#43439a" stroke-width="1.0"/>
<line x1="493.75" y1="760.00" x2="493.75" y2="765.00" stroke="#303030" stroke-width="1.0"/>
<line x1="493.75" y1="780.10" x2="493.75" y2="784.50" stroke="#303030" stroke-width="1.0"/>
<line x1="492.08" y1="760.00" x2="495.42" y2="760.00" stroke="#303030" stroke-width="1.0"/>
<line x1="492.08" y1="784.50" x2="495.42" y2="784.50" stroke="#303030" stroke-width="1.0"/>
<line x1="490.96" y1="775.00" x2="496.54" y2="775.00" stroke="#2b2b88" stroke-width="1.45"/>
<rect x="502.11" y="777.70" width="5.58" height="0.60" fill="#f7f7fe" stroke="#43439a" stroke-width="1.0"/>
<line x1="503.23" y1="778.00" x2="506.57" y2="778.00" stroke="#303030" stroke-width="1.0"/>
<line x1="503.23" y1="778.00" x2="506.57" y2="778.00" stroke="#303030" stroke-width="1.0"/>
<line x1="502.11" y1="778.00" x2="507.69" y2="778.00" stroke="#2b2b88" stroke-width="1.45"/>
<rect x="513.26" y="802.80" width="5.58" height="8.00" fill="#f7f7fe" stroke="#43439a" stroke-width="1.0"/>
<line x1="516.05" y1="798.40" x2="516.05" y2="802.80" stroke="#303030" stroke-width="1.0"/>
<line x1="516.05" y1="810.80" x2="516.05" y2="811.80" stroke="#303030" stroke-width="1.0"/>
<line x1="514.38" y1="798.40" x2="517.72" y2="798.40" stroke="#303030" stroke-width="1.0"/>
<line x1="514.38" y1="811.80" x2="517.72" y2="811.80" stroke="#303030" stroke-width="1.0"/>
<line x1="513.26" y1="807.20" x2="518.84" y2="807.20" stroke="#2b2b88" stroke-width="1.45"/>
<rect x="524.41" y="694.30" width="5.58" height="9.50" fill="#f7f7fe" stroke="#43439a" stroke-width="1.0"/>
<line x1="527.20" y1="690.00" x2="527.20" y2="694.30" stroke="#303030" stroke-width="1.0"/>
<line x1="525.53" y1="690.00" x2="528.87" y2="690.00" stroke="#303030" stroke-width="1.0"/>
<line x1="525.53" y1="703.80" x2="528.87" y2="703.80" stroke="#303030" stroke-width="1.0"/>
<line x1="524.41" y1="703.50" x2="529.99" y2="703.50" stroke="#2b2b88" stroke-width="1.45"/>
<rect x="535.56" y="657.50" width="5.58" height="37.50" fill="#f7f7fe" stroke="#43439a" stroke-width="1.0"/>
<line x1="538.35" y1="653.40" x2="538.35" y2="657.50" stroke="#303030" stroke-width="1.0"/>
<line x1="538.35" y1="695.00" x2="538.35" y2="733.70" stroke="#303030" stroke-width="1.0"/>
<line x1="536.68" y1="653.40" x2="540.02" y2="653.40" stroke="#303030" stroke-width="1.0"/>
<line x1="536.68" y1="733.70" x2="540.02" y2="733.70" stroke="#303030" stroke-width="1.0"/>
<line x1="535.56" y1="660.90" x2="541.14" y2="660.90" stroke="#2b2b88" stroke-width="1.45"/>
<rect x="546.71" y="775.80" width="5.58" height="32.50" fill="#f7f7fe" stroke="#43439a" stroke-width="1.0"/>
<line x1="549.50" y1="745.80" x2="549.50" y2="775.80" stroke="#303030" stroke-width="1.0"/>
<line x1="549.50" y1="808.30" x2="549.50" y2="810.80" stroke="#303030" stroke-width="1.0"/>
<line x1="547.83" y1="745.80" x2="551.17" y2="745.80" stroke="#303030" stroke-width="1.0"/>
<line x1="547.83" y1="810.80" x2="551.17" y2="810.80" stroke="#303030" stroke-width="1.0"/>
<line x1="546.71" y1="806.40" x2="552.29" y2="806.40" stroke="#2b2b88" stroke-width="1.45"/>
<rect x="557.86" y="703.50" width="5.58" height="22.50" fill="#f7f7fe" stroke="#43439a" stroke-width="1.0"/>
<line x1="560.65" y1="726.00" x2="560.65" y2="744.40" stroke="#303030" stroke-width="1.0"/>
<line x1="558.98" y1="703.50" x2="562.32" y2="703.50" stroke="#303030" stroke-width="1.0"/>
<line x1="558.98" y1="744.40" x2="562.32" y2="744.40" stroke="#303030" stroke-width="1.0"/>
<line x1="557.86" y1="703.80" x2="563.44" y2="703.80" stroke="#2b2b88" stroke-width="1.45"/>
<rect x="569.01" y="799.80" width="5.58" height="0.40" fill="#f7f7fe" stroke="#43439a" stroke-width="1.0"/>
<line x1="570.13" y1="800.00" x2="573.47" y2="800.00" stroke="#303030" stroke-width="1.0"/>
<line x1="570.13" y1="800.00" x2="573.47" y2="800.00" stroke="#303030" stroke-width="1.0"/>
<line x1="569.01" y1="800.00" x2="574.59" y2="800.00" stroke="#2b2b88" stroke-width="1.45"/>
<rect x="580.16" y="847.80" width="5.58" height="8.90" fill="#f7f7fe" stroke="#43439a" stroke-width="1.0"/>
<line x1="582.95" y1="856.70" x2="582.95" y2="864.90" stroke="#303030" stroke-width="1.0"/>
<line x1="581.28" y1="847.80" x2="584.62" y2="847.80" stroke="#303030" stroke-width="1.0"/>
<line x1="581.28" y1="864.90" x2="584.62" y2="864.90" stroke="#303030" stroke-width="1.0"/>
<line x1="580.16" y1="848.60" x2="585.74" y2="848.60" stroke="#2b2b88" stroke-width="1.45"/>
<rect x="591.31" y="793.10" width="5.58" height="22.80" fill="#f7f7fe" stroke="#43439a" stroke-width="1.0"/>
<line x1="594.10" y1="770.70" x2="594.10" y2="793.10" stroke="#303030" stroke-width="1.0"/>
<line x1="594.10" y1="815.90" x2="594.10" y2="818.20" stroke="#303030" stroke-width="1.0"/>
<line x1="592.43" y1="770.70" x2="595.77" y2="770.70" stroke="#303030" stroke-width="1.0"/>
<line x1="592.43" y1="818.20" x2="595.77" y2="818.20" stroke="#303030" stroke-width="1.0"/>
<line x1="591.31" y1="815.50" x2="596.89" y2="815.50" stroke="#2b2b88" stroke-width="1.45"/>
<rect x="602.46" y="686.60" width="5.58" height="2.20" fill="#f7f7fe" stroke="#43439a" stroke-width="1.0"/>
<line x1="605.25" y1="688.80" x2="605.25" y2="694.30" stroke="#303030" stroke-width="1.0"/>
<line x1="603.58" y1="686.60" x2="606.92" y2="686.60" stroke="#303030" stroke-width="1.0"/>
<line x1="603.58" y1="694.30" x2="606.92" y2="694.30" stroke="#303030" stroke-width="1.0"/>
<line x1="602.46" y1="687.20" x2="608.04" y2="687.20" stroke="#2b2b88" stroke-width="1.45"/>
<rect x="613.61" y="725.00" width="5.58" height="30.30" fill="#f7f7fe" stroke="#43439a" stroke-width="1.0"/>
<line x1="616.40" y1="708.60" x2="616.40" y2="725.00" stroke="#303030" stroke-width="1.0"/>
<line x1="616.40" y1="755.30" x2="616.40" y2="763.60" stroke="#303030" stroke-width="1.0"/>
<line x1="614.73" y1="708.60" x2="618.07" y2="708.60" stroke="#303030" stroke-width="1.0"/>
<line x1="614.73" y1="763.60" x2="618.07" y2="763.60" stroke="#303030" stroke-width="1.0"/>
<line x1="613.61" y1="747.00" x2="619.19" y2="747.00" stroke="#2b2b88" stroke-width="1.45"/>
<rect x="624.76" y="755.30" width="5.58" height="2.20" fill="#f7f7fe" stroke="#43439a" stroke-width="1.0"/>
<line x1="625.88" y1="755.30" x2="629.22" y2="755.30" stroke="#303030" stroke-width="1.0"/>
<line x1="625.88" y1="757.50" x2="629.22" y2="757.50" stroke="#303030" stroke-width="1.0"/>
<line x1="624.76" y1="756.40" x2="630.34" y2="756.40" stroke="#2b2b88" stroke-width="1.45"/>
<rect x="635.91" y="821.80" width="5.58" height="0.40" fill="#f7f7fe" stroke="#43439a" stroke-width="1.0"/>
<line x1="637.03" y1="822.00" x2="640.37" y2="822.00" stroke="#303030" stroke-width="1.0"/>
<line x1="637.03" y1="822.00" x2="640.37" y2="822.00" stroke="#303030" stroke-width="1.0"/>
<line x1="635.91" y1="822.00" x2="641.49" y2="822.00" stroke="#2b2b88" stroke-width="1.45"/>
<rect x="647.06" y="804.50" width="5.58" height="10.50" fill="#f7f7fe" stroke="#43439a" stroke-width="1.0"/>
<line x1="649.85" y1="815.00" x2="649.85" y2="822.60" stroke="#303030" stroke-width="1.0"/>
<line x1="648.18" y1="804.50" x2="651.52" y2="804.50" stroke="#303030" stroke-width="1.0"/>
<line x1="648.18" y1="822.60" x2="651.52" y2="822.60" stroke="#303030" stroke-width="1.0"/>
<line x1="647.06" y1="806.80" x2="652.64" y2="806.80" stroke="#2b2b88" stroke-width="1.45"/>
<rect x="658.21" y="837.90" width="5.58" height="0.40" fill="#f7f7fe" stroke="#43439a" stroke-width="1.0"/>
<line x1="659.33" y1="838.10" x2="662.67" y2="838.10" stroke="#303030" stroke-width="1.0"/>
<line x1="659.33" y1="838.10" x2="662.67" y2="838.10" stroke="#303030" stroke-width="1.0"/>
<line x1="658.21" y1="838.10" x2="663.79" y2="838.10" stroke="#2b2b88" stroke-width="1.45"/>
<rect x="669.36" y="695.20" width="5.58" height="11.20" fill="#f7f7fe" stroke="#43439a" stroke-width="1.0"/>
<line x1="672.15" y1="693.00" x2="672.15" y2="695.20" stroke="#303030" stroke-width="1.0"/>
<line x1="672.15" y1="706.40" x2="672.15" y2="712.30" stroke="#303030" stroke-width="1.0"/>
<line x1="670.48" y1="693.00" x2="673.82" y2="693.00" stroke="#303030" stroke-width="1.0"/>
<line x1="670.48" y1="712.30" x2="673.82" y2="712.30" stroke="#303030" stroke-width="1.0"/>
<line x1="669.36" y1="698.40" x2="674.94" y2="698.40" stroke="#2b2b88" stroke-width="1.45"/>
<polyline points="36.60,752.61 47.75,783.67 58.90,745.04 70.05,779.12 81.20,767.76 92.35,786.70 103.50,797.30 114.65,785.94 125.80,791.24 136.95,748.82 148.10,798.82 159.25,773.82 170.40,768.52 181.55,787.46 192.70,764.73 203.85,726.10 215.00,783.67 226.15,782.15 237.30,691.25 248.45,779.12 259.60,767.76 270.75,772.31 281.90,766.25 293.05,786.70 304.20,794.27 315.35,757.91 326.50,796.55 337.65,813.21 348.80,813.97 359.95,776.10 371.10,820.79 382.25,793.52 393.40,754.13 404.55,732.92 415.70,739.74 426.85,676.11 438.00,827.61 449.15,807.15 460.30,770.79 471.45,763.98 482.60,776.10 493.75,764.73 504.90,777.61 516.05,801.09 527.20,691.25 538.35,704.89 549.50,768.52 560.65,730.64 571.80,798.06 582.95,850.33 594.10,788.21 605.25,689.74 616.40,732.92 627.55,754.13 638.70,822.30 649.85,807.91 661.00,838.97 672.15,698.83" fill="none" stroke="#ff6a6a" stroke-width="1.1" stroke-linejoin="round"/>
<polygon points="34.80,750.81 34.80,754.41 38.40,752.61" fill="#ff3030"/>
<polygon points="45.95,781.87 45.95,785.47 49.55,783.67" fill="#ff3030"/>
<polygon points="57.10,743.24 57.10,746.84 60.70,745.04" fill="#ff3030"/>
<polygon points="68.25,777.32 68.25,780.92 71.85,779.12" fill="#ff3030"/>
<polygon points="79.40,765.96 79.40,769.56 83.00,767.76" fill="#ff3030"/>
<polygon points="90.55,784.90 90.55,788.50 94.15,786.70" fill="#ff3030"/>
<polygon points="101.70,795.50 101.70,799.10 105.30,797.30" fill="#ff3030"/>
<polygon points="112.85,784.14 112.85,787.74 116.45,785.94" fill="#ff3030"/>
<polygon points="124.00,789.44 124.00,793.04 127.60,791.24" fill="#ff3030"/>
<polygon points="135.15,747.02 135.15,750.62 138.75,748.82" fill="#ff3030"/>
<polygon points="146.30,797.02 146.30,800.62 149.90,798.82" fill="#ff3030"/>
<polygon points="157.45,772.02 157.45,775.62 161.05,773.82" fill="#ff3030"/>
<polygon points="168.60,766.72 168.60,770.32 172.20,768.52" fill="#ff3030"/>
<polygon points="179.75,785.66 179.75,789.26 183.35,787.46" fill="#ff3030"/>
<polygon points="190.90,762.93 190.90,766.53 194.50,764.73" fill="#ff3030"/>
<polygon points="202.05,724.30 202.05,727.90 205.65,726.10" fill="#ff3030"/>
<polygon points="213.20,781.87 213.20,785.47 216.80,783.67" fill="#ff3030"/>
<polygon points="224.35,780.35 224.35,783.95 227.95,782.15" fill="#ff3030"/>
<polygon points="235.50,689.45 235.50,693.05 239.10,691.25" fill="#ff3030"/>
<polygon points="246.65,777.32 246.65,780.92 250.25,779.12" fill="#ff3030"/>
<polygon points="257.80,765.96 257.80,769.56 261.40,767.76" fill="#ff3030"/>
<polygon points="268.95,770.51 268.95,774.11 272.55,772.31" fill="#ff3030"/>
<polygon points="280.10,764.45 280.10,768.05 283.70,766.25" fill="#ff3030"/>
<polygon points="291.25,784.90 291.25,788.50 294.85,786.70" fill="#ff3030"/>
<polygon points="302.40,792.47 302.40,796.07 306.00,794.27" fill="#ff3030"/>
<polygon points="313.55,756.12 313.55,759.71 317.15,757.91" fill="#ff3030"/>
<polygon points="324.70,794.75 324.70,798.35 328.30,796.55" fill="#ff3030"/>
<polygon points="335.85,811.41 335.85,815.01 339.45,813.21" fill="#ff3030"/>
<polygon points="347.00,812.17 347.00,815.77 350.60,813.97" fill="#ff3030"/>
<polygon points="358.15,774.30 358.15,777.89 361.75,776.10" fill="#ff3030"/>
<polygon points="369.30,818.99 369.30,822.59 372.90,820.79" fill="#ff3030"/>
<polygon points="380.45,791.72 380.45,795.32 384.05,793.52" fill="#ff3030"/>
<polygon points="391.60,752.33 391.60,755.93 395.20,754.13" fill="#ff3030"/>
<polygon points="402.75,731.12 402.75,734.72 406.35,732.92" fill="#ff3030"/>
<polygon points="413.90,737.94 413.90,741.53 417.50,739.74" fill="#ff3030"/>
<polygon points="425.05,674.31 425.05,677.90 428.65,676.11" fill="#ff3030"/>
<polygon points="436.20,825.81 436.20,829.40 439.80,827.61" fill="#ff3030"/>
<polygon points="447.35,805.35 447.35,808.95 450.95,807.15" fill="#ff3030"/>
<polygon points="458.50,768.99 458.50,772.59 462.10,770.79" fill="#ff3030"/>
<polygon points="469.65,762.18 469.65,765.77 473.25,763.98" fill="#ff3030"/>
<polygon points="480.80,774.30 480.80,777.89 484.40,776.10" fill="#ff3030"/>
<polygon points="491.95,762.93 491.95,766.53 495.55,764.73" fill="#ff3030"/>
<polygon points="503.10,775.81 503.10,779.41 506.70,777.61" fill="#ff3030"/>
<polygon points="514.25,799.29 514.25,802.89 517.85,801.09" fill="#ff3030"/>
<polygon points="525.40,689.45 525.40,693.05 529.00,691.25" fill="#ff3030"/>
<polygon points="536.55,703.09 536.55,706.69 540.15,704.89" fill="#ff3030"/>
<polygon points="547.70,766.72 547.70,770.32 551.30,768.52" fill="#ff3030"/>
<polygon points="558.85,728.84 558.85,732.44 562.45,730.64" fill="#ff3030"/>
<polygon points="570.00,796.26 570.00,799.86 573.60,798.06" fill="#ff3030"/>
<polygon points="581.15,848.53 581.15,852.13 584.75,850.33" fill="#ff3030"/>
<polygon points="592.30,786.41 592.30,790.01 595.90,788.21" fill="#ff3030"/>
<polygon points="603.45,687.94 603.45,691.54 607.05,689.74" fill="#ff3030"/>
<polygon points="614.60,731.12 614.60,734.72 618.20,732.92" fill="#ff3030"/>
<polygon points="625.75,752.33 625.75,755.93 629.35,754.13" fill="#ff3030"/>
<polygon points="636.90,820.50 636.90,824.10 640.50,822.30" fill="#ff3030"/>
<polygon points="648.05,806.11 648.05,809.71 651.65,807.91" fill="#ff3030"/>
<polygon points="659.20,837.17 659.20,840.77 662.80,838.97" fill="#ff3030"/>
<polygon points="670.35,697.03 670.35,700.63 673.95,698.83" fill="#ff3030"/>
<rect x="26.41" y="736.16" width="19.79" height="12.8" rx="2.3" fill="#fff" stroke="#ff3030" stroke-width="1.05"/>
<text x="36.30" y="745.41" font-size="7.800000000000001" text-anchor="middle" fill="#ff3030" stroke="#ff3030" stroke-width="0.22">9.85</text>
<rect x="37.56" y="767.22" width="19.79" height="12.8" rx="2.3" fill="#fff" stroke="#ff3030" stroke-width="1.05"/>
<text x="47.45" y="776.47" font-size="7.800000000000001" text-anchor="middle" fill="#ff3030" stroke="#ff3030" stroke-width="0.22">9.44</text>
<rect x="48.71" y="728.59" width="19.79" height="12.8" rx="2.3" fill="#fff" stroke="#ff3030" stroke-width="1.05"/>
<text x="58.60" y="737.84" font-size="7.800000000000001" text-anchor="middle" fill="#ff3030" stroke="#ff3030" stroke-width="0.22">9.95</text>
<rect x="59.86" y="762.67" width="19.79" height="12.8" rx="2.3" fill="#fff" stroke="#ff3030" stroke-width="1.05"/>
<text x="69.75" y="771.92" font-size="7.800000000000001" text-anchor="middle" fill="#ff3030" stroke="#ff3030" stroke-width="0.22">9.50</text>
<rect x="71.01" y="751.31" width="19.79" height="12.8" rx="2.3" fill="#fff" stroke="#ff3030" stroke-width="1.05"/>
<text x="80.90" y="760.56" font-size="7.800000000000001" text-anchor="middle" fill="#ff3030" stroke="#ff3030" stroke-width="0.22">9.65</text>
<rect x="82.16" y="770.25" width="19.79" height="12.8" rx="2.3" fill="#fff" stroke="#ff3030" stroke-width="1.05"/>
<text x="92.05" y="779.50" font-size="7.800000000000001" text-anchor="middle" fill="#ff3030" stroke="#ff3030" stroke-width="0.22">9.40</text>
<rect x="93.31" y="780.86" width="19.79" height="12.8" rx="2.3" fill="#fff" stroke="#ff3030" stroke-width="1.05"/>
<text x="103.20" y="790.11" font-size="7.800000000000001" text-anchor="middle" fill="#ff3030" stroke="#ff3030" stroke-width="0.22">9.26</text>
<rect x="104.46" y="769.49" width="19.79" height="12.8" rx="2.3" fill="#fff" stroke="#ff3030" stroke-width="1.05"/>
<text x="114.35" y="778.74" font-size="7.800000000000001" text-anchor="middle" fill="#ff3030" stroke="#ff3030" stroke-width="0.22">9.41</text>
<rect x="115.61" y="774.79" width="19.79" height="12.8" rx="2.3" fill="#fff" stroke="#ff3030" stroke-width="1.05"/>
<text x="125.50" y="784.04" font-size="7.800000000000001" text-anchor="middle" fill="#ff3030" stroke="#ff3030" stroke-width="0.22">9.34</text>
<rect x="126.76" y="732.38" width="19.79" height="12.8" rx="2.3" fill="#fff" stroke="#ff3030" stroke-width="1.05"/>
<text x="136.65" y="741.62" font-size="7.800000000000001" text-anchor="middle" fill="#ff3030" stroke="#ff3030" stroke-width="0.22">9.90</text>
<rect x="137.91" y="782.37" width="19.79" height="12.8" rx="2.3" fill="#fff" stroke="#ff3030" stroke-width="1.05"/>
<text x="147.80" y="791.62" font-size="7.800000000000001" text-anchor="middle" fill="#ff3030" stroke="#ff3030" stroke-width="0.22">9.24</text>
<rect x="149.06" y="757.37" width="19.79" height="12.8" rx="2.3" fill="#fff" stroke="#ff3030" stroke-width="1.05"/>
<text x="158.95" y="766.62" font-size="7.800000000000001" text-anchor="middle" fill="#ff3030" stroke="#ff3030" stroke-width="0.22">9.57</text>
<rect x="160.21" y="752.07" width="19.79" height="12.8" rx="2.3" fill="#fff" stroke="#ff3030" stroke-width="1.05"/>
<text x="170.10" y="761.32" font-size="7.800000000000001" text-anchor="middle" fill="#ff3030" stroke="#ff3030" stroke-width="0.22">9.64</text>
<rect x="171.36" y="771.01" width="19.79" height="12.8" rx="2.3" fill="#fff" stroke="#ff3030" stroke-width="1.05"/>
<text x="181.25" y="780.26" font-size="7.800000000000001" text-anchor="middle" fill="#ff3030" stroke="#ff3030" stroke-width="0.22">9.39</text>
<rect x="182.51" y="748.28" width="19.79" height="12.8" rx="2.3" fill="#fff" stroke="#ff3030" stroke-width="1.05"/>
<text x="192.40" y="757.53" font-size="7.800000000000001" text-anchor="middle" fill="#ff3030" stroke="#ff3030" stroke-width="0.22">9.69</text>
<rect x="191.53" y="709.65" width="24.04" height="12.8" rx="2.3" fill="#fff" stroke="#ff3030" stroke-width="1.05"/>
<text x="203.55" y="718.90" font-size="7.800000000000001" text-anchor="middle" fill="#ff3030" stroke="#ff3030" stroke-width="0.22">10.20</text>
<rect x="204.81" y="767.22" width="19.79" height="12.8" rx="2.3" fill="#fff" stroke="#ff3030" stroke-width="1.05"/>
<text x="214.70" y="776.47" font-size="7.800000000000001" text-anchor="middle" fill="#ff3030" stroke="#ff3030" stroke-width="0.22">9.44</text>
<rect x="215.96" y="765.70" width="19.79" height="12.8" rx="2.3" fill="#fff" stroke="#ff3030" stroke-width="1.05"/>
<text x="225.85" y="774.95" font-size="7.800000000000001" text-anchor="middle" fill="#ff3030" stroke="#ff3030" stroke-width="0.22">9.46</text>
<rect x="224.98" y="674.80" width="24.04" height="12.8" rx="2.3" fill="#fff" stroke="#ff3030" stroke-width="1.05"/>
<text x="237.00" y="684.05" font-size="7.800000000000001" text-anchor="middle" fill="#ff3030" stroke="#ff3030" stroke-width="0.22">10.66</text>
<rect x="238.26" y="762.67" width="19.79" height="12.8" rx="2.3" fill="#fff" stroke="#ff3030" stroke-width="1.05"/>
<text x="248.15" y="771.92" font-size="7.800000000000001" text-anchor="middle" fill="#ff3030" stroke="#ff3030" stroke-width="0.22">9.50</text>
<rect x="249.41" y="751.31" width="19.79" height="12.8" rx="2.3" fill="#fff" stroke="#ff3030" stroke-width="1.05"/>
<text x="259.30" y="760.56" font-size="7.800000000000001" text-anchor="middle" fill="#ff3030" stroke="#ff3030" stroke-width="0.22">9.65</text>
<rect x="260.56" y="755.86" width="19.79" height="12.8" rx="2.3" fill="#fff" stroke="#ff3030" stroke-width="1.05"/>
<text x="270.45" y="765.11" font-size="7.800000000000001" text-anchor="middle" fill="#ff3030" stroke="#ff3030" stroke-width="0.22">9.59</text>
<rect x="271.71" y="749.80" width="19.79" height="12.8" rx="2.3" fill="#fff" stroke="#ff3030" stroke-width="1.05"/>
<text x="281.60" y="759.05" font-size="7.800000000000001" text-anchor="middle" fill="#ff3030" stroke="#ff3030" stroke-width="0.22">9.67</text>
<rect x="282.86" y="770.25" width="19.79" height="12.8" rx="2.3" fill="#fff" stroke="#ff3030" stroke-width="1.05"/>
<text x="292.75" y="779.50" font-size="7.800000000000001" text-anchor="middle" fill="#ff3030" stroke="#ff3030" stroke-width="0.22">9.40</text>
<rect x="294.01" y="777.82" width="19.79" height="12.8" rx="2.3" fill="#fff" stroke="#ff3030" stroke-width="1.05"/>
<text x="303.90" y="787.07" font-size="7.800000000000001" text-anchor="middle" fill="#ff3030" stroke="#ff3030" stroke-width="0.22">9.30</text>
<rect x="305.16" y="741.47" width="19.79" height="12.8" rx="2.3" fill="#fff" stroke="#ff3030" stroke-width="1.05"/>
<text x="315.05" y="750.72" font-size="7.800000000000001" text-anchor="middle" fill="#ff3030" stroke="#ff3030" stroke-width="0.22">9.78</text>
<rect x="316.31" y="780.10" width="19.79" height="12.8" rx="2.3" fill="#fff" stroke="#ff3030" stroke-width="1.05"/>
<text x="326.20" y="789.35" font-size="7.800000000000001" text-anchor="middle" fill="#ff3030" stroke="#ff3030" stroke-width="0.22">9.27</text>
<rect x="327.46" y="796.76" width="19.79" height="12.8" rx="2.3" fill="#fff" stroke="#ff3030" stroke-width="1.05"/>
<text x="337.35" y="806.01" font-size="7.800000000000001" text-anchor="middle" fill="#ff3030" stroke="#ff3030" stroke-width="0.22">9.05</text>
<rect x="338.61" y="797.52" width="19.79" height="12.8" rx="2.3" fill="#fff" stroke="#ff3030" stroke-width="1.05"/>
<text x="348.50" y="806.77" font-size="7.800000000000001" text-anchor="middle" fill="#ff3030" stroke="#ff3030" stroke-width="0.22">9.04</text>
<rect x="349.76" y="759.65" width="19.79" height="12.8" rx="2.3" fill="#fff" stroke="#ff3030" stroke-width="1.05"/>
<text x="359.65" y="768.90" font-size="7.800000000000001" text-anchor="middle" fill="#ff3030" stroke="#ff3030" stroke-width="0.22">9.54</text>
<rect x="360.91" y="804.34" width="19.79" height="12.8" rx="2.3" fill="#fff" stroke="#ff3030" stroke-width="1.05"/>
<text x="370.80" y="813.59" font-size="7.800000000000001" text-anchor="middle" fill="#ff3030" stroke="#ff3030" stroke-width="0.22">8.95</text>
<rect x="372.06" y="777.07" width="19.79" height="12.8" rx="2.3" fill="#fff" stroke="#ff3030" stroke-width="1.05"/>
<text x="381.95" y="786.32" font-size="7.800000000000001" text-anchor="middle" fill="#ff3030" stroke="#ff3030" stroke-width="0.22">9.31</text>
<rect x="383.21" y="737.68" width="19.79" height="12.8" rx="2.3" fill="#fff" stroke="#ff3030" stroke-width="1.05"/>
<text x="393.10" y="746.93" font-size="7.800000000000001" text-anchor="middle" fill="#ff3030" stroke="#ff3030" stroke-width="0.22">9.83</text>
<rect x="392.23" y="716.47" width="24.04" height="12.8" rx="2.3" fill="#fff" stroke="#ff3030" stroke-width="1.05"/>
<text x="404.25" y="725.72" font-size="7.800000000000001" text-anchor="middle" fill="#ff3030" stroke="#ff3030" stroke-width="0.22">10.11</text>
<rect x="403.38" y="723.29" width="24.04" height="12.8" rx="2.3" fill="#fff" stroke="#ff3030" stroke-width="1.05"/>
<text x="415.40" y="732.54" font-size="7.800000000000001" text-anchor="middle" fill="#ff3030" stroke="#ff3030" stroke-width="0.22">10.02</text>
<rect x="414.53" y="659.66" width="24.04" height="12.8" rx="2.3" fill="#fff" stroke="#ff3030" stroke-width="1.05"/>
<text x="426.55" y="668.91" font-size="7.800000000000001" text-anchor="middle" fill="#ff3030" stroke="#ff3030" stroke-width="0.22">10.86</text>
<rect x="427.81" y="811.16" width="19.79" height="12.8" rx="2.3" fill="#fff" stroke="#ff3030" stroke-width="1.05"/>
<text x="437.70" y="820.41" font-size="7.800000000000001" text-anchor="middle" fill="#ff3030" stroke="#ff3030" stroke-width="0.22">8.86</text>
<rect x="438.96" y="790.70" width="19.79" height="12.8" rx="2.3" fill="#fff" stroke="#ff3030" stroke-width="1.05"/>
<text x="448.85" y="799.95" font-size="7.800000000000001" text-anchor="middle" fill="#ff3030" stroke="#ff3030" stroke-width="0.22">9.13</text>
<rect x="450.11" y="754.34" width="19.79" height="12.8" rx="2.3" fill="#fff" stroke="#ff3030" stroke-width="1.05"/>
<text x="460.00" y="763.59" font-size="7.800000000000001" text-anchor="middle" fill="#ff3030" stroke="#ff3030" stroke-width="0.22">9.61</text>
<rect x="461.26" y="747.53" width="19.79" height="12.8" rx="2.3" fill="#fff" stroke="#ff3030" stroke-width="1.05"/>
<text x="471.15" y="756.78" font-size="7.800000000000001" text-anchor="middle" fill="#ff3030" stroke="#ff3030" stroke-width="0.22">9.70</text>
<rect x="472.41" y="759.65" width="19.79" height="12.8" rx="2.3" fill="#fff" stroke="#ff3030" stroke-width="1.05"/>
<text x="482.30" y="768.90" font-size="7.800000000000001" text-anchor="middle" fill="#ff3030" stroke="#ff3030" stroke-width="0.22">9.54</text>
<rect x="483.56" y="748.28" width="19.79" height="12.8" rx="2.3" fill="#fff" stroke="#ff3030" stroke-width="1.05"/>
<text x="493.45" y="757.53" font-size="7.800000000000001" text-anchor="middle" fill="#ff3030" stroke="#ff3030" stroke-width="0.22">9.69</text>
<rect x="494.71" y="761.16" width="19.79" height="12.8" rx="2.3" fill="#fff" stroke="#ff3030" stroke-width="1.05"/>
<text x="504.60" y="770.41" font-size="7.800000000000001" text-anchor="middle" fill="#ff3030" stroke="#ff3030" stroke-width="0.22">9.52</text>
<rect x="505.86" y="784.64" width="19.79" height="12.8" rx="2.3" fill="#fff" stroke="#ff3030" stroke-width="1.05"/>
<text x="515.75" y="793.89" font-size="7.800000000000001" text-anchor="middle" fill="#ff3030" stroke="#ff3030" stroke-width="0.22">9.21</text>
<rect x="514.88" y="674.80" width="24.04" height="12.8" rx="2.3" fill="#fff" stroke="#ff3030" stroke-width="1.05"/>
<text x="526.90" y="684.05" font-size="7.800000000000001" text-anchor="middle" fill="#ff3030" stroke="#ff3030" stroke-width="0.22">10.66</text>
<rect x="526.03" y="688.44" width="24.04" height="12.8" rx="2.3" fill="#fff" stroke="#ff3030" stroke-width="1.05"/>
<text x="538.05" y="697.69" font-size="7.800000000000001" text-anchor="middle" fill="#ff3030" stroke="#ff3030" stroke-width="0.22">10.48</text>
<rect x="539.31" y="752.07" width="19.79" height="12.8" rx="2.3" fill="#fff" stroke="#ff3030" stroke-width="1.05"/>
<text x="549.20" y="761.32" font-size="7.800000000000001" text-anchor="middle" fill="#ff3030" stroke="#ff3030" stroke-width="0.22">9.64</text>
<rect x="548.33" y="714.19" width="24.04" height="12.8" rx="2.3" fill="#fff" stroke="#ff3030" stroke-width="1.05"/>
<text x="560.35" y="723.44" font-size="7.800000000000001" text-anchor="middle" fill="#ff3030" stroke="#ff3030" stroke-width="0.22">10.14</text>
<rect x="561.61" y="781.61" width="19.79" height="12.8" rx="2.3" fill="#fff" stroke="#ff3030" stroke-width="1.05"/>
<text x="571.50" y="790.86" font-size="7.800000000000001" text-anchor="middle" fill="#ff3030" stroke="#ff3030" stroke-width="0.22">9.25</text>
<rect x="572.76" y="833.88" width="19.79" height="12.8" rx="2.3" fill="#fff" stroke="#ff3030" stroke-width="1.05"/>
<text x="582.65" y="843.13" font-size="7.800000000000001" text-anchor="middle" fill="#ff3030" stroke="#ff3030" stroke-width="0.22">8.56</text>
<rect x="583.91" y="771.76" width="19.79" height="12.8" rx="2.3" fill="#fff" stroke="#ff3030" stroke-width="1.05"/>
<text x="593.80" y="781.01" font-size="7.800000000000001" text-anchor="middle" fill="#ff3030" stroke="#ff3030" stroke-width="0.22">9.38</text>
<rect x="592.93" y="673.29" width="24.04" height="12.8" rx="2.3" fill="#fff" stroke="#ff3030" stroke-width="1.05"/>
<text x="604.95" y="682.54" font-size="7.800000000000001" text-anchor="middle" fill="#ff3030" stroke="#ff3030" stroke-width="0.22">10.68</text>
<rect x="604.08" y="716.47" width="24.04" height="12.8" rx="2.3" fill="#fff" stroke="#ff3030" stroke-width="1.05"/>
<text x="616.10" y="725.72" font-size="7.800000000000001" text-anchor="middle" fill="#ff3030" stroke="#ff3030" stroke-width="0.22">10.11</text>
<rect x="617.36" y="737.68" width="19.79" height="12.8" rx="2.3" fill="#fff" stroke="#ff3030" stroke-width="1.05"/>
<text x="627.25" y="746.93" font-size="7.800000000000001" text-anchor="middle" fill="#ff3030" stroke="#ff3030" stroke-width="0.22">9.83</text>
<rect x="628.51" y="805.85" width="19.79" height="12.8" rx="2.3" fill="#fff" stroke="#ff3030" stroke-width="1.05"/>
<text x="638.40" y="815.10" font-size="7.800000000000001" text-anchor="middle" fill="#ff3030" stroke="#ff3030" stroke-width="0.22">8.93</text>
<rect x="639.66" y="791.46" width="19.79" height="12.8" rx="2.3" fill="#fff" stroke="#ff3030" stroke-width="1.05"/>
<text x="649.55" y="800.71" font-size="7.800000000000001" text-anchor="middle" fill="#ff3030" stroke="#ff3030" stroke-width="0.22">9.12</text>
<rect x="650.81" y="822.52" width="19.79" height="12.8" rx="2.3" fill="#fff" stroke="#ff3030" stroke-width="1.05"/>
<text x="660.70" y="831.77" font-size="7.800000000000001" text-anchor="middle" fill="#ff3030" stroke="#ff3030" stroke-width="0.22">8.71</text>
<rect x="659.83" y="682.38" width="24.04" height="12.8" rx="2.3" fill="#fff" stroke="#ff3030" stroke-width="1.05"/>
<text x="671.85" y="691.63" font-size="7.800000000000001" text-anchor="middle" fill="#ff3030" stroke="#ff3030" stroke-width="0.22">10.56</text>
<line x1="558.60" y1="652.80" x2="574.90" y2="652.80" stroke="#ff6a6a" stroke-width="1.0"/>
<polygon points="564.95,651.00 564.95,654.60 568.55,652.80" fill="#ff3030"/>
<text x="580.60" y="655.45" font-size="7.78" text-anchor="start" fill="#303030" >Average race time (hours)</text>
<text x="354.20" y="912.40" font-size="11.56" text-anchor="middle" fill="#303030" >Number of race records</text>
<line x1="31.00" y1="950.60" x2="677.70" y2="950.60" stroke="#dcdcdc" stroke-width="0.9"/>
<text x="27.9" y="953.90" font-size="8.2" text-anchor="end" fill="#303030">10<tspan font-size="5.5" dy="-3.2">3</tspan></text>
<line x1="31.00" y1="1022.20" x2="677.70" y2="1022.20" stroke="#dcdcdc" stroke-width="0.9"/>
<text x="27.9" y="1025.50" font-size="8.2" text-anchor="end" fill="#303030">10<tspan font-size="5.5" dy="-3.2">2</tspan></text>
<line x1="31.00" y1="1093.80" x2="677.70" y2="1093.80" stroke="#dcdcdc" stroke-width="0.9"/>
<text x="27.9" y="1097.10" font-size="8.2" text-anchor="end" fill="#303030">10<tspan font-size="5.5" dy="-3.2">1</tspan></text>
<line x1="36.60" y1="922.10" x2="36.60" y2="1154.40" stroke="#dcdcdc" stroke-width="0.9"/>
<line x1="47.75" y1="922.10" x2="47.75" y2="1154.40" stroke="#dcdcdc" stroke-width="0.9"/>
<line x1="58.90" y1="922.10" x2="58.90" y2="1154.40" stroke="#dcdcdc" stroke-width="0.9"/>
<line x1="70.05" y1="922.10" x2="70.05" y2="1154.40" stroke="#dcdcdc" stroke-width="0.9"/>
<line x1="81.20" y1="922.10" x2="81.20" y2="1154.40" stroke="#dcdcdc" stroke-width="0.9"/>
<line x1="92.35" y1="922.10" x2="92.35" y2="1154.40" stroke="#dcdcdc" stroke-width="0.9"/>
<line x1="103.50" y1="922.10" x2="103.50" y2="1154.40" stroke="#dcdcdc" stroke-width="0.9"/>
<line x1="114.65" y1="922.10" x2="114.65" y2="1154.40" stroke="#dcdcdc" stroke-width="0.9"/>
<line x1="125.80" y1="922.10" x2="125.80" y2="1154.40" stroke="#dcdcdc" stroke-width="0.9"/>
<line x1="136.95" y1="922.10" x2="136.95" y2="1154.40" stroke="#dcdcdc" stroke-width="0.9"/>
<line x1="148.10" y1="922.10" x2="148.10" y2="1154.40" stroke="#dcdcdc" stroke-width="0.9"/>
<line x1="159.25" y1="922.10" x2="159.25" y2="1154.40" stroke="#dcdcdc" stroke-width="0.9"/>
<line x1="170.40" y1="922.10" x2="170.40" y2="1154.40" stroke="#dcdcdc" stroke-width="0.9"/>
<line x1="181.55" y1="922.10" x2="181.55" y2="1154.40" stroke="#dcdcdc" stroke-width="0.9"/>
<line x1="192.70" y1="922.10" x2="192.70" y2="1154.40" stroke="#dcdcdc" stroke-width="0.9"/>
<line x1="203.85" y1="922.10" x2="203.85" y2="1154.40" stroke="#dcdcdc" stroke-width="0.9"/>
<line x1="215.00" y1="922.10" x2="215.00" y2="1154.40" stroke="#dcdcdc" stroke-width="0.9"/>
<line x1="226.15" y1="922.10" x2="226.15" y2="1154.40" stroke="#dcdcdc" stroke-width="0.9"/>
<line x1="237.30" y1="922.10" x2="237.30" y2="1154.40" stroke="#dcdcdc" stroke-width="0.9"/>
<line x1="248.45" y1="922.10" x2="248.45" y2="1154.40" stroke="#dcdcdc" stroke-width="0.9"/>
<line x1="259.60" y1="922.10" x2="259.60" y2="1154.40" stroke="#dcdcdc" stroke-width="0.9"/>
<line x1="270.75" y1="922.10" x2="270.75" y2="1154.40" stroke="#dcdcdc" stroke-width="0.9"/>
<line x1="281.90" y1="922.10" x2="281.90" y2="1154.40" stroke="#dcdcdc" stroke-width="0.9"/>
<line x1="293.05" y1="922.10" x2="293.05" y2="1154.40" stroke="#dcdcdc" stroke-width="0.9"/>
<line x1="304.20" y1="922.10" x2="304.20" y2="1154.40" stroke="#dcdcdc" stroke-width="0.9"/>
<line x1="315.35" y1="922.10" x2="315.35" y2="1154.40" stroke="#dcdcdc" stroke-width="0.9"/>
<line x1="326.50" y1="922.10" x2="326.50" y2="1154.40" stroke="#dcdcdc" stroke-width="0.9"/>
<line x1="337.65" y1="922.10" x2="337.65" y2="1154.40" stroke="#dcdcdc" stroke-width="0.9"/>
<line x1="348.80" y1="922.10" x2="348.80" y2="1154.40" stroke="#dcdcdc" stroke-width="0.9"/>
<line x1="359.95" y1="922.10" x2="359.95" y2="1154.40" stroke="#dcdcdc" stroke-width="0.9"/>
<line x1="371.10" y1="922.10" x2="371.10" y2="1154.40" stroke="#dcdcdc" stroke-width="0.9"/>
<line x1="382.25" y1="922.10" x2="382.25" y2="1154.40" stroke="#dcdcdc" stroke-width="0.9"/>
<line x1="393.40" y1="922.10" x2="393.40" y2="1154.40" stroke="#dcdcdc" stroke-width="0.9"/>
<line x1="404.55" y1="922.10" x2="404.55" y2="1154.40" stroke="#dcdcdc" stroke-width="0.9"/>
<line x1="415.70" y1="922.10" x2="415.70" y2="1154.40" stroke="#dcdcdc" stroke-width="0.9"/>
<line x1="426.85" y1="922.10" x2="426.85" y2="1154.40" stroke="#dcdcdc" stroke-width="0.9"/>
<line x1="438.00" y1="922.10" x2="438.00" y2="1154.40" stroke="#dcdcdc" stroke-width="0.9"/>
<line x1="449.15" y1="922.10" x2="449.15" y2="1154.40" stroke="#dcdcdc" stroke-width="0.9"/>
<line x1="460.30" y1="922.10" x2="460.30" y2="1154.40" stroke="#dcdcdc" stroke-width="0.9"/>
<line x1="471.45" y1="922.10" x2="471.45" y2="1154.40" stroke="#dcdcdc" stroke-width="0.9"/>
<line x1="482.60" y1="922.10" x2="482.60" y2="1154.40" stroke="#dcdcdc" stroke-width="0.9"/>
<line x1="493.75" y1="922.10" x2="493.75" y2="1154.40" stroke="#dcdcdc" stroke-width="0.9"/>
<line x1="504.90" y1="922.10" x2="504.90" y2="1154.40" stroke="#dcdcdc" stroke-width="0.9"/>
<line x1="516.05" y1="922.10" x2="516.05" y2="1154.40" stroke="#dcdcdc" stroke-width="0.9"/>
<line x1="527.20" y1="922.10" x2="527.20" y2="1154.40" stroke="#dcdcdc" stroke-width="0.9"/>
<line x1="538.35" y1="922.10" x2="538.35" y2="1154.40" stroke="#dcdcdc" stroke-width="0.9"/>
<line x1="549.50" y1="922.10" x2="549.50" y2="1154.40" stroke="#dcdcdc" stroke-width="0.9"/>
<line x1="560.65" y1="922.10" x2="560.65" y2="1154.40" stroke="#dcdcdc" stroke-width="0.9"/>
<line x1="571.80" y1="922.10" x2="571.80" y2="1154.40" stroke="#dcdcdc" stroke-width="0.9"/>
<line x1="582.95" y1="922.10" x2="582.95" y2="1154.40" stroke="#dcdcdc" stroke-width="0.9"/>
<line x1="594.10" y1="922.10" x2="594.10" y2="1154.40" stroke="#dcdcdc" stroke-width="0.9"/>
<line x1="605.25" y1="922.10" x2="605.25" y2="1154.40" stroke="#dcdcdc" stroke-width="0.9"/>
<line x1="616.40" y1="922.10" x2="616.40" y2="1154.40" stroke="#dcdcdc" stroke-width="0.9"/>
<line x1="627.55" y1="922.10" x2="627.55" y2="1154.40" stroke="#dcdcdc" stroke-width="0.9"/>
<line x1="638.70" y1="922.10" x2="638.70" y2="1154.40" stroke="#dcdcdc" stroke-width="0.9"/>
<line x1="649.85" y1="922.10" x2="649.85" y2="1154.40" stroke="#dcdcdc" stroke-width="0.9"/>
<line x1="661.00" y1="922.10" x2="661.00" y2="1154.40" stroke="#dcdcdc" stroke-width="0.9"/>
<line x1="672.15" y1="922.10" x2="672.15" y2="1154.40" stroke="#dcdcdc" stroke-width="0.9"/>
<text transform="translate(9.50,1038.80) rotate(-90)" font-size="8.33" text-anchor="middle" fill="#303030">Records count</text>
<rect x="32.14" y="932.57" width="8.92" height="221.83" fill="#a3a3c7"/>
<line x1="36.60" y1="932.57" x2="36.60" y2="1154.40" stroke="#9090b8" stroke-width="0.9"/>
<rect x="43.29" y="962.87" width="8.92" height="191.53" fill="#a3a3c7"/>
<line x1="47.75" y1="962.87" x2="47.75" y2="1154.40" stroke="#9090b8" stroke-width="0.9"/>
<rect x="54.44" y="977.13" width="8.92" height="177.27" fill="#a3a3c7"/>
<line x1="58.90" y1="977.13" x2="58.90" y2="1154.40" stroke="#9090b8" stroke-width="0.9"/>
<rect x="65.59" y="979.41" width="8.92" height="174.99" fill="#a3a3c7"/>
<line x1="70.05" y1="979.41" x2="70.05" y2="1154.40" stroke="#9090b8" stroke-width="0.9"/>
<rect x="76.74" y="983.96" width="8.92" height="170.44" fill="#a3a3c7"/>
<line x1="81.20" y1="983.96" x2="81.20" y2="1154.40" stroke="#9090b8" stroke-width="0.9"/>
<rect x="87.89" y="985.55" width="8.92" height="168.85" fill="#a3a3c7"/>
<line x1="92.35" y1="985.55" x2="92.35" y2="1154.40" stroke="#9090b8" stroke-width="0.9"/>
<rect x="99.04" y="990.63" width="8.92" height="163.77" fill="#a3a3c7"/>
<line x1="103.50" y1="990.63" x2="103.50" y2="1154.40" stroke="#9090b8" stroke-width="0.9"/>
<rect x="110.19" y="992.37" width="8.92" height="162.03" fill="#a3a3c7"/>
<line x1="114.65" y1="992.37" x2="114.65" y2="1154.40" stroke="#9090b8" stroke-width="0.9"/>
<rect x="121.34" y="992.73" width="8.92" height="161.67" fill="#a3a3c7"/>
<line x1="125.80" y1="992.73" x2="125.80" y2="1154.40" stroke="#9090b8" stroke-width="0.9"/>
<rect x="132.49" y="998.83" width="8.92" height="155.57" fill="#a3a3c7"/>
<line x1="136.95" y1="998.83" x2="136.95" y2="1154.40" stroke="#9090b8" stroke-width="0.9"/>
<rect x="143.64" y="1002.08" width="8.92" height="152.32" fill="#a3a3c7"/>
<line x1="148.10" y1="1002.08" x2="148.10" y2="1154.40" stroke="#9090b8" stroke-width="0.9"/>
<rect x="154.79" y="1004.10" width="8.92" height="150.30" fill="#a3a3c7"/>
<line x1="159.25" y1="1004.10" x2="159.25" y2="1154.40" stroke="#9090b8" stroke-width="0.9"/>
<rect x="165.94" y="1006.63" width="8.92" height="147.77" fill="#a3a3c7"/>
<line x1="170.40" y1="1006.63" x2="170.40" y2="1154.40" stroke="#9090b8" stroke-width="0.9"/>
<rect x="177.09" y="1010.22" width="8.92" height="144.18" fill="#a3a3c7"/>
<line x1="181.55" y1="1010.22" x2="181.55" y2="1154.40" stroke="#9090b8" stroke-width="0.9"/>
<rect x="188.24" y="1016.79" width="8.92" height="137.61" fill="#a3a3c7"/>
<line x1="192.70" y1="1016.79" x2="192.70" y2="1154.40" stroke="#9090b8" stroke-width="0.9"/>
<rect x="199.39" y="1017.58" width="8.92" height="136.82" fill="#a3a3c7"/>
<line x1="203.85" y1="1017.58" x2="203.85" y2="1154.40" stroke="#9090b8" stroke-width="0.9"/>
<rect x="210.54" y="1019.52" width="8.92" height="134.88" fill="#a3a3c7"/>
<line x1="215.00" y1="1019.52" x2="215.00" y2="1154.40" stroke="#9090b8" stroke-width="0.9"/>
<rect x="221.69" y="1020.10" width="8.92" height="134.30" fill="#a3a3c7"/>
<line x1="226.15" y1="1020.10" x2="226.15" y2="1154.40" stroke="#9090b8" stroke-width="0.9"/>
<rect x="232.84" y="1024.12" width="8.92" height="130.28" fill="#a3a3c7"/>
<line x1="237.30" y1="1024.12" x2="237.30" y2="1154.40" stroke="#9090b8" stroke-width="0.9"/>
<rect x="243.99" y="1028.75" width="8.92" height="125.65" fill="#a3a3c7"/>
<line x1="248.45" y1="1028.75" x2="248.45" y2="1154.40" stroke="#9090b8" stroke-width="0.9"/>
<rect x="255.14" y="1034.65" width="8.92" height="119.75" fill="#a3a3c7"/>
<line x1="259.60" y1="1034.65" x2="259.60" y2="1154.40" stroke="#9090b8" stroke-width="0.9"/>
<rect x="266.29" y="1035.60" width="8.92" height="118.80" fill="#a3a3c7"/>
<line x1="270.75" y1="1035.60" x2="270.75" y2="1154.40" stroke="#9090b8" stroke-width="0.9"/>
<rect x="277.44" y="1040.79" width="8.92" height="113.61" fill="#a3a3c7"/>
<line x1="281.90" y1="1040.79" x2="281.90" y2="1154.40" stroke="#9090b8" stroke-width="0.9"/>
<rect x="288.59" y="1043.14" width="8.92" height="111.26" fill="#a3a3c7"/>
<line x1="293.05" y1="1043.14" x2="293.05" y2="1154.40" stroke="#9090b8" stroke-width="0.9"/>
<rect x="299.74" y="1046.35" width="8.92" height="108.05" fill="#a3a3c7"/>
<line x1="304.20" y1="1046.35" x2="304.20" y2="1154.40" stroke="#9090b8" stroke-width="0.9"/>
<rect x="310.89" y="1047.03" width="8.92" height="107.37" fill="#a3a3c7"/>
<line x1="315.35" y1="1047.03" x2="315.35" y2="1154.40" stroke="#9090b8" stroke-width="0.9"/>
<rect x="322.04" y="1057.63" width="8.92" height="96.77" fill="#a3a3c7"/>
<line x1="326.50" y1="1057.63" x2="326.50" y2="1154.40" stroke="#9090b8" stroke-width="0.9"/>
<rect x="333.19" y="1057.63" width="8.92" height="96.77" fill="#a3a3c7"/>
<line x1="337.65" y1="1057.63" x2="337.65" y2="1154.40" stroke="#9090b8" stroke-width="0.9"/>
<rect x="344.34" y="1059.64" width="8.92" height="94.76" fill="#a3a3c7"/>
<line x1="348.80" y1="1059.64" x2="348.80" y2="1154.40" stroke="#9090b8" stroke-width="0.9"/>
<rect x="355.49" y="1060.69" width="8.92" height="93.71" fill="#a3a3c7"/>
<line x1="359.95" y1="1060.69" x2="359.95" y2="1154.40" stroke="#9090b8" stroke-width="0.9"/>
<rect x="366.64" y="1061.78" width="8.92" height="92.62" fill="#a3a3c7"/>
<line x1="371.10" y1="1061.78" x2="371.10" y2="1154.40" stroke="#9090b8" stroke-width="0.9"/>
<rect x="377.79" y="1066.58" width="8.92" height="87.82" fill="#a3a3c7"/>
<line x1="382.25" y1="1066.58" x2="382.25" y2="1154.40" stroke="#9090b8" stroke-width="0.9"/>
<rect x="388.94" y="1069.28" width="8.92" height="85.12" fill="#a3a3c7"/>
<line x1="393.40" y1="1069.28" x2="393.40" y2="1154.40" stroke="#9090b8" stroke-width="0.9"/>
<rect x="400.09" y="1079.19" width="8.92" height="75.21" fill="#a3a3c7"/>
<line x1="404.55" y1="1079.19" x2="404.55" y2="1154.40" stroke="#9090b8" stroke-width="0.9"/>
<rect x="411.24" y="1081.19" width="8.92" height="73.21" fill="#a3a3c7"/>
<line x1="415.70" y1="1081.19" x2="415.70" y2="1154.40" stroke="#9090b8" stroke-width="0.9"/>
<rect x="422.39" y="1081.19" width="8.92" height="73.21" fill="#a3a3c7"/>
<line x1="426.85" y1="1081.19" x2="426.85" y2="1154.40" stroke="#9090b8" stroke-width="0.9"/>
<rect x="433.54" y="1083.34" width="8.92" height="71.06" fill="#a3a3c7"/>
<line x1="438.00" y1="1083.34" x2="438.00" y2="1154.40" stroke="#9090b8" stroke-width="0.9"/>
<rect x="444.69" y="1090.84" width="8.92" height="63.56" fill="#a3a3c7"/>
<line x1="449.15" y1="1090.84" x2="449.15" y2="1154.40" stroke="#9090b8" stroke-width="0.9"/>
<rect x="455.84" y="1090.84" width="8.92" height="63.56" fill="#a3a3c7"/>
<line x1="460.30" y1="1090.84" x2="460.30" y2="1154.40" stroke="#9090b8" stroke-width="0.9"/>
<rect x="466.99" y="1090.84" width="8.92" height="63.56" fill="#a3a3c7"/>
<line x1="471.45" y1="1090.84" x2="471.45" y2="1154.40" stroke="#9090b8" stroke-width="0.9"/>
<rect x="478.14" y="1104.89" width="8.92" height="49.51" fill="#a3a3c7"/>
<line x1="482.60" y1="1104.89" x2="482.60" y2="1154.40" stroke="#9090b8" stroke-width="0.9"/>
<rect x="489.29" y="1104.89" width="8.92" height="49.51" fill="#a3a3c7"/>
<line x1="493.75" y1="1104.89" x2="493.75" y2="1154.40" stroke="#9090b8" stroke-width="0.9"/>
<rect x="500.44" y="1122.29" width="8.92" height="32.11" fill="#a3a3c7"/>
<line x1="504.90" y1="1122.29" x2="504.90" y2="1154.40" stroke="#9090b8" stroke-width="0.9"/>
<rect x="511.59" y="1122.29" width="8.92" height="32.11" fill="#a3a3c7"/>
<line x1="516.05" y1="1122.29" x2="516.05" y2="1154.40" stroke="#9090b8" stroke-width="0.9"/>
<rect x="522.74" y="1131.24" width="8.92" height="23.16" fill="#a3a3c7"/>
<line x1="527.20" y1="1131.24" x2="527.20" y2="1154.40" stroke="#9090b8" stroke-width="0.9"/>
<rect x="533.89" y="1131.24" width="8.92" height="23.16" fill="#a3a3c7"/>
<line x1="538.35" y1="1131.24" x2="538.35" y2="1154.40" stroke="#9090b8" stroke-width="0.9"/>
<rect x="545.04" y="1131.24" width="8.92" height="23.16" fill="#a3a3c7"/>
<line x1="549.50" y1="1131.24" x2="549.50" y2="1154.40" stroke="#9090b8" stroke-width="0.9"/>
<rect x="556.19" y="1131.24" width="8.92" height="23.16" fill="#a3a3c7"/>
<line x1="560.65" y1="1131.24" x2="560.65" y2="1154.40" stroke="#9090b8" stroke-width="0.9"/>
<rect x="567.34" y="1131.24" width="8.92" height="23.16" fill="#a3a3c7"/>
<line x1="571.80" y1="1131.24" x2="571.80" y2="1154.40" stroke="#9090b8" stroke-width="0.9"/>
<rect x="578.49" y="1131.24" width="8.92" height="23.16" fill="#a3a3c7"/>
<line x1="582.95" y1="1131.24" x2="582.95" y2="1154.40" stroke="#9090b8" stroke-width="0.9"/>
<rect x="589.64" y="1131.24" width="8.92" height="23.16" fill="#a3a3c7"/>
<line x1="594.10" y1="1131.24" x2="594.10" y2="1154.40" stroke="#9090b8" stroke-width="0.9"/>
<rect x="600.79" y="1131.24" width="8.92" height="23.16" fill="#a3a3c7"/>
<line x1="605.25" y1="1131.24" x2="605.25" y2="1154.40" stroke="#9090b8" stroke-width="0.9"/>
<rect x="611.94" y="1131.24" width="8.92" height="23.16" fill="#a3a3c7"/>
<line x1="616.40" y1="1131.24" x2="616.40" y2="1154.40" stroke="#9090b8" stroke-width="0.9"/>
<rect x="623.09" y="1131.24" width="8.92" height="23.16" fill="#a3a3c7"/>
<line x1="627.55" y1="1131.24" x2="627.55" y2="1154.40" stroke="#9090b8" stroke-width="0.9"/>
<rect x="634.24" y="1143.85" width="8.92" height="10.55" fill="#a3a3c7"/>
<line x1="638.70" y1="1143.85" x2="638.70" y2="1154.40" stroke="#9090b8" stroke-width="0.9"/>
<rect x="645.39" y="1143.85" width="8.92" height="10.55" fill="#a3a3c7"/>
<line x1="649.85" y1="1143.85" x2="649.85" y2="1154.40" stroke="#9090b8" stroke-width="0.9"/>
<rect x="656.54" y="1143.85" width="8.92" height="10.55" fill="#a3a3c7"/>
<line x1="661.00" y1="1143.85" x2="661.00" y2="1154.40" stroke="#9090b8" stroke-width="0.9"/>
<rect x="667.69" y="1143.85" width="8.92" height="10.55" fill="#a3a3c7"/>
<line x1="672.15" y1="1143.85" x2="672.15" y2="1154.40" stroke="#9090b8" stroke-width="0.9"/>
<line x1="32.14" y1="950.60" x2="41.06" y2="950.60" stroke="#9090b8" stroke-width="0.9"/>
<line x1="32.14" y1="1022.20" x2="41.06" y2="1022.20" stroke="#9090b8" stroke-width="0.9"/>
<line x1="43.29" y1="1022.20" x2="52.21" y2="1022.20" stroke="#9090b8" stroke-width="0.9"/>
<line x1="54.44" y1="1022.20" x2="63.36" y2="1022.20" stroke="#9090b8" stroke-width="0.9"/>
<line x1="65.59" y1="1022.20" x2="74.51" y2="1022.20" stroke="#9090b8" stroke-width="0.9"/>
<line x1="76.74" y1="1022.20" x2="85.66" y2="1022.20" stroke="#9090b8" stroke-width="0.9"/>
<line x1="87.89" y1="1022.20" x2="96.81" y2="1022.20" stroke="#9090b8" stroke-width="0.9"/>
<line x1="99.04" y1="1022.20" x2="107.96" y2="1022.20" stroke="#9090b8" stroke-width="0.9"/>
<line x1="110.19" y1="1022.20" x2="119.11" y2="1022.20" stroke="#9090b8" stroke-width="0.9"/>
<line x1="121.34" y1="1022.20" x2="130.26" y2="1022.20" stroke="#9090b8" stroke-width="0.9"/>
<line x1="132.49" y1="1022.20" x2="141.41" y2="1022.20" stroke="#9090b8" stroke-width="0.9"/>
<line x1="143.64" y1="1022.20" x2="152.56" y2="1022.20" stroke="#9090b8" stroke-width="0.9"/>
<line x1="154.79" y1="1022.20" x2="163.71" y2="1022.20" stroke="#9090b8" stroke-width="0.9"/>
<line x1="165.94" y1="1022.20" x2="174.86" y2="1022.20" stroke="#9090b8" stroke-width="0.9"/>
<line x1="177.09" y1="1022.20" x2="186.01" y2="1022.20" stroke="#9090b8" stroke-width="0.9"/>
<line x1="188.24" y1="1022.20" x2="197.16" y2="1022.20" stroke="#9090b8" stroke-width="0.9"/>
<line x1="199.39" y1="1022.20" x2="208.31" y2="1022.20" stroke="#9090b8" stroke-width="0.9"/>
<line x1="210.54" y1="1022.20" x2="219.46" y2="1022.20" stroke="#9090b8" stroke-width="0.9"/>
<line x1="221.69" y1="1022.20" x2="230.61" y2="1022.20" stroke="#9090b8" stroke-width="0.9"/>
<line x1="32.14" y1="1093.80" x2="41.06" y2="1093.80" stroke="#9090b8" stroke-width="0.9"/>
<line x1="43.29" y1="1093.80" x2="52.21" y2="1093.80" stroke="#9090b8" stroke-width="0.9"/>
<line x1="54.44" y1="1093.80" x2="63.36" y2="1093.80" stroke="#9090b8" stroke-width="0.9"/>
<line x1="65.59" y1="1093.80" x2="74.51" y2="1093.80" stroke="#9090b8" stroke-width="0.9"/>
<line x1="76.74" y1="1093.80" x2="85.66" y2="1093.80" stroke="#9090b8" stroke-width="0.9"/>
<line x1="87.89" y1="1093.80" x2="96.81" y2="1093.80" stroke="#9090b8" stroke-width="0.9"/>
<line x1="99.04" y1="1093.80" x2="107.96" y2="1093.80" stroke="#9090b8" stroke-width="0.9"/>
<line x1="110.19" y1="1093.80" x2="119.11" y2="1093.80" stroke="#9090b8" stroke-width="0.9"/>
<line x1="121.34" y1="1093.80" x2="130.26" y2="1093.80" stroke="#9090b8" stroke-width="0.9"/>
<line x1="132.49" y1="1093.80" x2="141.41" y2="1093.80" stroke="#9090b8" stroke-width="0.9"/>
<line x1="143.64" y1="1093.80" x2="152.56" y2="1093.80" stroke="#9090b8" stroke-width="0.9"/>
<line x1="154.79" y1="1093.80" x2="163.71" y2="1093.80" stroke="#9090b8" stroke-width="0.9"/>
<line x1="165.94" y1="1093.80" x2="174.86" y2="1093.80" stroke="#9090b8" stroke-width="0.9"/>
<line x1="177.09" y1="1093.80" x2="186.01" y2="1093.80" stroke="#9090b8" stroke-width="0.9"/>
<line x1="188.24" y1="1093.80" x2="197.16" y2="1093.80" stroke="#9090b8" stroke-width="0.9"/>
<line x1="199.39" y1="1093.80" x2="208.31" y2="1093.80" stroke="#9090b8" stroke-width="0.9"/>
<line x1="210.54" y1="1093.80" x2="219.46" y2="1093.80" stroke="#9090b8" stroke-width="0.9"/>
<line x1="221.69" y1="1093.80" x2="230.61" y2="1093.80" stroke="#9090b8" stroke-width="0.9"/>
<line x1="232.84" y1="1093.80" x2="241.76" y2="1093.80" stroke="#9090b8" stroke-width="0.9"/>
<line x1="243.99" y1="1093.80" x2="252.91" y2="1093.80" stroke="#9090b8" stroke-width="0.9"/>
<line x1="255.14" y1="1093.80" x2="264.06" y2="1093.80" stroke="#9090b8" stroke-width="0.9"/>
<line x1="266.29" y1="1093.80" x2="275.21" y2="1093.80" stroke="#9090b8" stroke-width="0.9"/>
<line x1="277.44" y1="1093.80" x2="286.36" y2="1093.80" stroke="#9090b8" stroke-width="0.9"/>
<line x1="288.59" y1="1093.80" x2="297.51" y2="1093.80" stroke="#9090b8" stroke-width="0.9"/>
<line x1="299.74" y1="1093.80" x2="308.66" y2="1093.80" stroke="#9090b8" stroke-width="0.9"/>
<line x1="310.89" y1="1093.80" x2="319.81" y2="1093.80" stroke="#9090b8" stroke-width="0.9"/>
<line x1="322.04" y1="1093.80" x2="330.96" y2="1093.80" stroke="#9090b8" stroke-width="0.9"/>
<line x1="333.19" y1="1093.80" x2="342.11" y2="1093.80" stroke="#9090b8" stroke-width="0.9"/>
<line x1="344.34" y1="1093.80" x2="353.26" y2="1093.80" stroke="#9090b8" stroke-width="0.9"/>
<line x1="355.49" y1="1093.80" x2="364.41" y2="1093.80" stroke="#9090b8" stroke-width="0.9"/>
<line x1="366.64" y1="1093.80" x2="375.56" y2="1093.80" stroke="#9090b8" stroke-width="0.9"/>
<line x1="377.79" y1="1093.80" x2="386.71" y2="1093.80" stroke="#9090b8" stroke-width="0.9"/>
<line x1="388.94" y1="1093.80" x2="397.86" y2="1093.80" stroke="#9090b8" stroke-width="0.9"/>
<line x1="400.09" y1="1093.80" x2="409.01" y2="1093.80" stroke="#9090b8" stroke-width="0.9"/>
<line x1="411.24" y1="1093.80" x2="420.16" y2="1093.80" stroke="#9090b8" stroke-width="0.9"/>
<line x1="422.39" y1="1093.80" x2="431.31" y2="1093.80" stroke="#9090b8" stroke-width="0.9"/>
<line x1="433.54" y1="1093.80" x2="442.46" y2="1093.80" stroke="#9090b8" stroke-width="0.9"/>
<line x1="444.69" y1="1093.80" x2="453.61" y2="1093.80" stroke="#9090b8" stroke-width="0.9"/>
<line x1="455.84" y1="1093.80" x2="464.76" y2="1093.80" stroke="#9090b8" stroke-width="0.9"/>
<line x1="466.99" y1="1093.80" x2="475.91" y2="1093.80" stroke="#9090b8" stroke-width="0.9"/>
<g transform="rotate(-60 36.60 1043.48)"><rect x="25.94" y="1037.28" width="21.31" height="12.4" rx="2.3" fill="#1b1b74" stroke="#000" stroke-width="0.9"/>
<text x="36.60" y="1046.28" font-size="7.65" text-anchor="middle" fill="#f0f0fa" >1786</text>
</g>
<g transform="rotate(-60 47.75 1058.63)"><rect x="39.22" y="1052.43" width="17.06" height="12.4" rx="2.3" fill="#1b1b74" stroke="#000" stroke-width="0.9"/>
<text x="47.75" y="1061.43" font-size="7.65" text-anchor="middle" fill="#f0f0fa" >674</text>
</g>
<g transform="rotate(-60 58.90 1065.77)"><rect x="50.37" y="1059.57" width="17.06" height="12.4" rx="2.3" fill="#1b1b74" stroke="#000" stroke-width="0.9"/>
<text x="58.90" y="1068.57" font-size="7.65" text-anchor="middle" fill="#f0f0fa" >426</text>
</g>
<g transform="rotate(-60 70.05 1066.90)"><rect x="61.52" y="1060.70" width="17.06" height="12.4" rx="2.3" fill="#1b1b74" stroke="#000" stroke-width="0.9"/>
<text x="70.05" y="1069.70" font-size="7.65" text-anchor="middle" fill="#f0f0fa" >396</text>
</g>
<g transform="rotate(-60 81.20 1069.18)"><rect x="72.67" y="1062.98" width="17.06" height="12.4" rx="2.3" fill="#1b1b74" stroke="#000" stroke-width="0.9"/>
<text x="81.20" y="1071.98" font-size="7.65" text-anchor="middle" fill="#f0f0fa" >342</text>
</g>
<g transform="rotate(-60 92.35 1069.97)"><rect x="83.82" y="1063.77" width="17.06" height="12.4" rx="2.3" fill="#1b1b74" stroke="#000" stroke-width="0.9"/>
<text x="92.35" y="1072.77" font-size="7.65" text-anchor="middle" fill="#f0f0fa" >325</text>
</g>
<g transform="rotate(-60 103.50 1072.52)"><rect x="94.97" y="1066.32" width="17.06" height="12.4" rx="2.3" fill="#1b1b74" stroke="#000" stroke-width="0.9"/>
<text x="103.50" y="1075.32" font-size="7.65" text-anchor="middle" fill="#f0f0fa" >276</text>
</g>
<g transform="rotate(-60 114.65 1073.38)"><rect x="106.12" y="1067.18" width="17.06" height="12.4" rx="2.3" fill="#1b1b74" stroke="#000" stroke-width="0.9"/>
<text x="114.65" y="1076.18" font-size="7.65" text-anchor="middle" fill="#f0f0fa" >261</text>
</g>
<g transform="rotate(-60 125.80 1073.56)"><rect x="117.27" y="1067.36" width="17.06" height="12.4" rx="2.3" fill="#1b1b74" stroke="#000" stroke-width="0.9"/>
<text x="125.80" y="1076.36" font-size="7.65" text-anchor="middle" fill="#f0f0fa" >258</text>
</g>
<g transform="rotate(-60 136.95 1076.62)"><rect x="128.42" y="1070.42" width="17.06" height="12.4" rx="2.3" fill="#1b1b74" stroke="#000" stroke-width="0.9"/>
<text x="136.95" y="1079.42" font-size="7.65" text-anchor="middle" fill="#f0f0fa" >212</text>
</g>
<g transform="rotate(-60 148.10 1078.24)"><rect x="139.57" y="1072.04" width="17.06" height="12.4" rx="2.3" fill="#1b1b74" stroke="#000" stroke-width="0.9"/>
<text x="148.10" y="1081.04" font-size="7.65" text-anchor="middle" fill="#f0f0fa" >191</text>
</g>
<g transform="rotate(-60 159.25 1079.25)"><rect x="150.72" y="1073.05" width="17.06" height="12.4" rx="2.3" fill="#1b1b74" stroke="#000" stroke-width="0.9"/>
<text x="159.25" y="1082.05" font-size="7.65" text-anchor="middle" fill="#f0f0fa" >179</text>
</g>
<g transform="rotate(-60 170.40 1080.51)"><rect x="161.87" y="1074.31" width="17.06" height="12.4" rx="2.3" fill="#1b1b74" stroke="#000" stroke-width="0.9"/>
<text x="170.40" y="1083.31" font-size="7.65" text-anchor="middle" fill="#f0f0fa" >165</text>
</g>
<g transform="rotate(-60 181.55 1082.31)"><rect x="173.02" y="1076.11" width="17.06" height="12.4" rx="2.3" fill="#1b1b74" stroke="#000" stroke-width="0.9"/>
<text x="181.55" y="1085.11" font-size="7.65" text-anchor="middle" fill="#f0f0fa" >147</text>
</g>
<g transform="rotate(-60 192.70 1085.60)"><rect x="184.17" y="1079.40" width="17.06" height="12.4" rx="2.3" fill="#1b1b74" stroke="#000" stroke-width="0.9"/>
<text x="192.70" y="1088.40" font-size="7.65" text-anchor="middle" fill="#f0f0fa" >119</text>
</g>
<g transform="rotate(-60 203.85 1085.99)"><rect x="195.32" y="1079.79" width="17.06" height="12.4" rx="2.3" fill="#1b1b74" stroke="#000" stroke-width="0.9"/>
<text x="203.85" y="1088.79" font-size="7.65" text-anchor="middle" fill="#f0f0fa" >116</text>
</g>
<g transform="rotate(-60 215.00 1086.96)"><rect x="206.47" y="1080.76" width="17.06" height="12.4" rx="2.3" fill="#1b1b74" stroke="#000" stroke-width="0.9"/>
<text x="215.00" y="1089.76" font-size="7.65" text-anchor="middle" fill="#f0f0fa" >109</text>
</g>
<g transform="rotate(-60 226.15 1087.25)"><rect x="217.62" y="1081.05" width="17.06" height="12.4" rx="2.3" fill="#1b1b74" stroke="#000" stroke-width="0.9"/>
<text x="226.15" y="1090.05" font-size="7.65" text-anchor="middle" fill="#f0f0fa" >107</text>
</g>
<g transform="rotate(-60 237.30 1089.26)"><rect x="230.90" y="1083.06" width="12.81" height="12.4" rx="2.3" fill="#1b1b74" stroke="#000" stroke-width="0.9"/>
<text x="237.30" y="1092.06" font-size="7.65" text-anchor="middle" fill="#f0f0fa" >94</text>
</g>
<g transform="rotate(-60 248.45 1091.58)"><rect x="242.05" y="1085.38" width="12.81" height="12.4" rx="2.3" fill="#1b1b74" stroke="#000" stroke-width="0.9"/>
<text x="248.45" y="1094.38" font-size="7.65" text-anchor="middle" fill="#f0f0fa" >81</text>
</g>
<g transform="rotate(-60 259.60 1094.53)"><rect x="253.20" y="1088.33" width="12.81" height="12.4" rx="2.3" fill="#1b1b74" stroke="#000" stroke-width="0.9"/>
<text x="259.60" y="1097.33" font-size="7.65" text-anchor="middle" fill="#f0f0fa" >67</text>
</g>
<g transform="rotate(-60 270.75 1095.00)"><rect x="264.35" y="1088.80" width="12.81" height="12.4" rx="2.3" fill="#1b1b74" stroke="#000" stroke-width="0.9"/>
<text x="270.75" y="1097.80" font-size="7.65" text-anchor="middle" fill="#f0f0fa" >65</text>
</g>
<g transform="rotate(-60 281.90 1097.60)"><rect x="275.50" y="1091.40" width="12.81" height="12.4" rx="2.3" fill="#1b1b74" stroke="#000" stroke-width="0.9"/>
<text x="281.90" y="1100.40" font-size="7.65" text-anchor="middle" fill="#f0f0fa" >55</text>
</g>
<g transform="rotate(-60 293.05 1098.77)"><rect x="286.65" y="1092.57" width="12.81" height="12.4" rx="2.3" fill="#1b1b74" stroke="#000" stroke-width="0.9"/>
<text x="293.05" y="1101.57" font-size="7.65" text-anchor="middle" fill="#f0f0fa" >51</text>
</g>
<g transform="rotate(-60 304.20 1100.37)"><rect x="297.80" y="1094.17" width="12.81" height="12.4" rx="2.3" fill="#1b1b74" stroke="#000" stroke-width="0.9"/>
<text x="304.20" y="1103.17" font-size="7.65" text-anchor="middle" fill="#f0f0fa" >46</text>
</g>
<g transform="rotate(-60 315.35 1100.71)"><rect x="308.95" y="1094.51" width="12.81" height="12.4" rx="2.3" fill="#1b1b74" stroke="#000" stroke-width="0.9"/>
<text x="315.35" y="1103.51" font-size="7.65" text-anchor="middle" fill="#f0f0fa" >45</text>
</g>
<g transform="rotate(-60 326.50 1106.02)"><rect x="320.10" y="1099.82" width="12.81" height="12.4" rx="2.3" fill="#1b1b74" stroke="#000" stroke-width="0.9"/>
<text x="326.50" y="1108.82" font-size="7.65" text-anchor="middle" fill="#f0f0fa" >32</text>
</g>
<g transform="rotate(-60 337.65 1106.02)"><rect x="331.25" y="1099.82" width="12.81" height="12.4" rx="2.3" fill="#1b1b74" stroke="#000" stroke-width="0.9"/>
<text x="337.65" y="1108.82" font-size="7.65" text-anchor="middle" fill="#f0f0fa" >32</text>
</g>
<g transform="rotate(-60 348.80 1107.02)"><rect x="342.40" y="1100.82" width="12.81" height="12.4" rx="2.3" fill="#1b1b74" stroke="#000" stroke-width="0.9"/>
<text x="348.80" y="1109.82" font-size="7.65" text-anchor="middle" fill="#f0f0fa" >30</text>
</g>
<g transform="rotate(-60 359.95 1107.55)"><rect x="353.55" y="1101.35" width="12.81" height="12.4" rx="2.3" fill="#1b1b74" stroke="#000" stroke-width="0.9"/>
<text x="359.95" y="1110.35" font-size="7.65" text-anchor="middle" fill="#f0f0fa" >29</text>
</g>
<g transform="rotate(-60 371.10 1108.09)"><rect x="364.70" y="1101.89" width="12.81" height="12.4" rx="2.3" fill="#1b1b74" stroke="#000" stroke-width="0.9"/>
<text x="371.10" y="1110.89" font-size="7.65" text-anchor="middle" fill="#f0f0fa" >28</text>
</g>
<g transform="rotate(-60 382.25 1110.49)"><rect x="375.85" y="1104.29" width="12.81" height="12.4" rx="2.3" fill="#1b1b74" stroke="#000" stroke-width="0.9"/>
<text x="382.25" y="1113.29" font-size="7.65" text-anchor="middle" fill="#f0f0fa" >24</text>
</g>
<g transform="rotate(-60 393.40 1111.84)"><rect x="387.00" y="1105.64" width="12.81" height="12.4" rx="2.3" fill="#1b1b74" stroke="#000" stroke-width="0.9"/>
<text x="393.40" y="1114.64" font-size="7.65" text-anchor="middle" fill="#f0f0fa" >22</text>
</g>
<g transform="rotate(-60 404.55 1116.79)"><rect x="398.15" y="1110.59" width="12.81" height="12.4" rx="2.3" fill="#1b1b74" stroke="#000" stroke-width="0.9"/>
<text x="404.55" y="1119.59" font-size="7.65" text-anchor="middle" fill="#f0f0fa" >16</text>
</g>
<g transform="rotate(-60 415.70 1117.80)"><rect x="409.30" y="1111.60" width="12.81" height="12.4" rx="2.3" fill="#1b1b74" stroke="#000" stroke-width="0.9"/>
<text x="415.70" y="1120.60" font-size="7.65" text-anchor="middle" fill="#f0f0fa" >15</text>
</g>
<g transform="rotate(-60 426.85 1117.80)"><rect x="420.45" y="1111.60" width="12.81" height="12.4" rx="2.3" fill="#1b1b74" stroke="#000" stroke-width="0.9"/>
<text x="426.85" y="1120.60" font-size="7.65" text-anchor="middle" fill="#f0f0fa" >15</text>
</g>
<g transform="rotate(-60 438.00 1118.87)"><rect x="431.60" y="1112.67" width="12.81" height="12.4" rx="2.3" fill="#1b1b74" stroke="#000" stroke-width="0.9"/>
<text x="438.00" y="1121.67" font-size="7.65" text-anchor="middle" fill="#f0f0fa" >14</text>
</g>
<g transform="rotate(-60 449.15 1122.62)"><rect x="442.75" y="1116.42" width="12.81" height="12.4" rx="2.3" fill="#1b1b74" stroke="#000" stroke-width="0.9"/>
<text x="449.15" y="1125.42" font-size="7.65" text-anchor="middle" fill="#f0f0fa" >11</text>
</g>
<g transform="rotate(-60 460.30 1122.62)"><rect x="453.90" y="1116.42" width="12.81" height="12.4" rx="2.3" fill="#1b1b74" stroke="#000" stroke-width="0.9"/>
<text x="460.30" y="1125.42" font-size="7.65" text-anchor="middle" fill="#f0f0fa" >11</text>
</g>
<g transform="rotate(-60 471.45 1122.62)"><rect x="465.05" y="1116.42" width="12.81" height="12.4" rx="2.3" fill="#1b1b74" stroke="#000" stroke-width="0.9"/>
<text x="471.45" y="1125.42" font-size="7.65" text-anchor="middle" fill="#f0f0fa" >11</text>
</g>
<g transform="rotate(-60 482.60 1129.65)"><rect x="478.32" y="1123.45" width="8.55" height="12.4" rx="2.3" fill="#1b1b74" stroke="#000" stroke-width="0.9"/>
<text x="482.60" y="1132.45" font-size="7.65" text-anchor="middle" fill="#f0f0fa" >7</text>
</g>
<g transform="rotate(-60 493.75 1129.65)"><rect x="489.47" y="1123.45" width="8.55" height="12.4" rx="2.3" fill="#1b1b74" stroke="#000" stroke-width="0.9"/>
<text x="493.75" y="1132.45" font-size="7.65" text-anchor="middle" fill="#f0f0fa" >7</text>
</g>
<g transform="rotate(-60 504.90 1138.35)"><rect x="500.62" y="1132.15" width="8.55" height="12.4" rx="2.3" fill="#1b1b74" stroke="#000" stroke-width="0.9"/>
<text x="504.90" y="1141.15" font-size="7.65" text-anchor="middle" fill="#f0f0fa" >4</text>
</g>
<g transform="rotate(-60 516.05 1138.35)"><rect x="511.77" y="1132.15" width="8.55" height="12.4" rx="2.3" fill="#1b1b74" stroke="#000" stroke-width="0.9"/>
<text x="516.05" y="1141.15" font-size="7.65" text-anchor="middle" fill="#f0f0fa" >4</text>
</g>
<g transform="rotate(-60 527.20 1142.82)"><rect x="522.92" y="1136.62" width="8.55" height="12.4" rx="2.3" fill="#1b1b74" stroke="#000" stroke-width="0.9"/>
<text x="527.20" y="1145.62" font-size="7.65" text-anchor="middle" fill="#f0f0fa" >3</text>
</g>
<g transform="rotate(-60 538.35 1142.82)"><rect x="534.07" y="1136.62" width="8.55" height="12.4" rx="2.3" fill="#1b1b74" stroke="#000" stroke-width="0.9"/>
<text x="538.35" y="1145.62" font-size="7.65" text-anchor="middle" fill="#f0f0fa" >3</text>
</g>
<g transform="rotate(-60 549.50 1142.82)"><rect x="545.22" y="1136.62" width="8.55" height="12.4" rx="2.3" fill="#1b1b74" stroke="#000" stroke-width="0.9"/>
<text x="549.50" y="1145.62" font-size="7.65" text-anchor="middle" fill="#f0f0fa" >3</text>
</g>
<g transform="rotate(-60 560.65 1142.82)"><rect x="556.37" y="1136.62" width="8.55" height="12.4" rx="2.3" fill="#1b1b74" stroke="#000" stroke-width="0.9"/>
<text x="560.65" y="1145.62" font-size="7.65" text-anchor="middle" fill="#f0f0fa" >3</text>
</g>
<g transform="rotate(-60 571.80 1142.82)"><rect x="567.52" y="1136.62" width="8.55" height="12.4" rx="2.3" fill="#1b1b74" stroke="#000" stroke-width="0.9"/>
<text x="571.80" y="1145.62" font-size="7.65" text-anchor="middle" fill="#f0f0fa" >3</text>
</g>
<g transform="rotate(-60 582.95 1142.82)"><rect x="578.67" y="1136.62" width="8.55" height="12.4" rx="2.3" fill="#1b1b74" stroke="#000" stroke-width="0.9"/>
<text x="582.95" y="1145.62" font-size="7.65" text-anchor="middle" fill="#f0f0fa" >3</text>
</g>
<g transform="rotate(-60 594.10 1142.82)"><rect x="589.82" y="1136.62" width="8.55" height="12.4" rx="2.3" fill="#1b1b74" stroke="#000" stroke-width="0.9"/>
<text x="594.10" y="1145.62" font-size="7.65" text-anchor="middle" fill="#f0f0fa" >3</text>
</g>
<g transform="rotate(-60 605.25 1142.82)"><rect x="600.97" y="1136.62" width="8.55" height="12.4" rx="2.3" fill="#1b1b74" stroke="#000" stroke-width="0.9"/>
<text x="605.25" y="1145.62" font-size="7.65" text-anchor="middle" fill="#f0f0fa" >3</text>
</g>
<g transform="rotate(-60 616.40 1142.82)"><rect x="612.12" y="1136.62" width="8.55" height="12.4" rx="2.3" fill="#1b1b74" stroke="#000" stroke-width="0.9"/>
<text x="616.40" y="1145.62" font-size="7.65" text-anchor="middle" fill="#f0f0fa" >3</text>
</g>
<g transform="rotate(-60 627.55 1142.82)"><rect x="623.27" y="1136.62" width="8.55" height="12.4" rx="2.3" fill="#1b1b74" stroke="#000" stroke-width="0.9"/>
<text x="627.55" y="1145.62" font-size="7.65" text-anchor="middle" fill="#f0f0fa" >3</text>
</g>
<g transform="rotate(-60 638.70 1149.12)"><rect x="634.42" y="1142.92" width="8.55" height="12.4" rx="2.3" fill="#1b1b74" stroke="#000" stroke-width="0.9"/>
<text x="638.70" y="1151.92" font-size="7.65" text-anchor="middle" fill="#f0f0fa" >2</text>
</g>
<g transform="rotate(-60 649.85 1149.12)"><rect x="645.57" y="1142.92" width="8.55" height="12.4" rx="2.3" fill="#1b1b74" stroke="#000" stroke-width="0.9"/>
<text x="649.85" y="1151.92" font-size="7.65" text-anchor="middle" fill="#f0f0fa" >2</text>
</g>
<g transform="rotate(-60 661.00 1149.12)"><rect x="656.72" y="1142.92" width="8.55" height="12.4" rx="2.3" fill="#1b1b74" stroke="#000" stroke-width="0.9"/>
<text x="661.00" y="1151.92" font-size="7.65" text-anchor="middle" fill="#f0f0fa" >2</text>
</g>
<g transform="rotate(-60 672.15 1149.12)"><rect x="667.87" y="1142.92" width="8.55" height="12.4" rx="2.3" fill="#1b1b74" stroke="#000" stroke-width="0.9"/>
<text x="672.15" y="1151.92" font-size="7.65" text-anchor="middle" fill="#f0f0fa" >2</text>
</g>
<text transform="translate(41.00,1161.30) rotate(-60)" font-size="8.2" text-anchor="end" fill="#303030">United States</text>
<text transform="translate(52.15,1161.30) rotate(-60)" font-size="8.2" text-anchor="end" fill="#303030">Germany</text>
<text transform="translate(63.30,1161.30) rotate(-60)" font-size="8.2" text-anchor="end" fill="#303030">Canada</text>
<text transform="translate(74.45,1161.30) rotate(-60)" font-size="8.2" text-anchor="end" fill="#303030">Australia</text>
<text transform="translate(85.60,1161.30) rotate(-60)" font-size="8.2" text-anchor="end" fill="#303030">United Kingdom</text>
<text transform="translate(96.75,1161.30) rotate(-60)" font-size="8.2" text-anchor="end" fill="#303030">France</text>
<text transform="translate(107.90,1161.30) rotate(-60)" font-size="8.2" text-anchor="end" fill="#303030">Switzerland</text>
<text transform="translate(119.05,1161.30) rotate(-60)" font-size="8.2" text-anchor="end" fill="#303030">Austria</text>
<text transform="translate(130.20,1161.30) rotate(-60)" font-size="8.2" text-anchor="end" fill="#303030">Spain</text>
<text transform="translate(141.35,1161.30) rotate(-60)" font-size="8.2" text-anchor="end" fill="#303030">Czechia</text>
<text transform="translate(152.50,1161.30) rotate(-60)" font-size="8.2" text-anchor="end" fill="#303030">Belgium</text>
<text transform="translate(163.65,1161.30) rotate(-60)" font-size="8.2" text-anchor="end" fill="#303030">Brazil</text>
<text transform="translate(174.80,1161.30) rotate(-60)" font-size="8.2" text-anchor="end" fill="#303030">New Zealand</text>
<text transform="translate(185.95,1161.30) rotate(-60)" font-size="8.2" text-anchor="end" fill="#303030">Denmark</text>
<text transform="translate(197.10,1161.30) rotate(-60)" font-size="8.2" text-anchor="end" fill="#303030">Netherlands</text>
<text transform="translate(208.25,1161.30) rotate(-60)" font-size="8.2" text-anchor="end" fill="#303030">Japan</text>
<text transform="translate(219.40,1161.30) rotate(-60)" font-size="8.2" text-anchor="end" fill="#303030">Sweden</text>
<text transform="translate(230.55,1161.30) rotate(-60)" font-size="8.2" text-anchor="end" fill="#303030">Italy</text>
<text transform="translate(241.70,1161.30) rotate(-60)" font-size="8.2" text-anchor="end" fill="#303030">Slovakia</text>
<text transform="translate(252.85,1161.30) rotate(-60)" font-size="8.2" text-anchor="end" fill="#303030">Hungary</text>
<text transform="translate(264.00,1161.30) rotate(-60)" font-size="8.2" text-anchor="end" fill="#303030">Argentina</text>
<text transform="translate(275.15,1161.30) rotate(-60)" font-size="8.2" text-anchor="end" fill="#303030">South Africa</text>
<text transform="translate(286.30,1161.30) rotate(-60)" font-size="8.2" text-anchor="end" fill="#303030">Russia</text>
<text transform="translate(297.45,1161.30) rotate(-60)" font-size="8.2" text-anchor="end" fill="#303030">Finland</text>
<text transform="translate(308.60,1161.30) rotate(-60)" font-size="8.2" text-anchor="end" fill="#303030">Slovenia</text>
<text transform="translate(319.75,1161.30) rotate(-60)" font-size="8.2" text-anchor="end" fill="#303030">Mexico</text>
<text transform="translate(330.90,1161.30) rotate(-60)" font-size="8.2" text-anchor="end" fill="#303030">Ukraine</text>
<text transform="translate(342.05,1161.30) rotate(-60)" font-size="8.2" text-anchor="end" fill="#303030">Estonia</text>
<text transform="translate(353.20,1161.30) rotate(-60)" font-size="8.2" text-anchor="end" fill="#303030">Poland</text>
<text transform="translate(364.35,1161.30) rotate(-60)" font-size="8.2" text-anchor="end" fill="#303030">Norway</text>
<text transform="translate(375.50,1161.30) rotate(-60)" font-size="8.2" text-anchor="end" fill="#303030">Portugal</text>
<text transform="translate(386.65,1161.30) rotate(-60)" font-size="8.2" text-anchor="end" fill="#303030">Croatia</text>
<text transform="translate(397.80,1161.30) rotate(-60)" font-size="8.2" text-anchor="end" fill="#303030">Ireland</text>
<text transform="translate(408.95,1161.30) rotate(-60)" font-size="8.2" text-anchor="end" fill="#303030">Israel</text>
<text transform="translate(420.10,1161.30) rotate(-60)" font-size="8.2" text-anchor="end" fill="#303030">Taiwan</text>
<text transform="translate(431.25,1161.30) rotate(-60)" font-size="8.2" text-anchor="end" fill="#303030">Philippines</text>
<text transform="translate(442.40,1161.30) rotate(-60)" font-size="8.2" text-anchor="end" fill="#303030">Bermuda</text>
<text transform="translate(453.55,1161.30) rotate(-60)" font-size="8.2" text-anchor="end" fill="#303030">Seychelles</text>
<text transform="translate(464.70,1161.30) rotate(-60)" font-size="8.2" text-anchor="end" fill="#303030">Venezuela</text>
<text transform="translate(475.85,1161.30) rotate(-60)" font-size="8.2" text-anchor="end" fill="#303030">Chile</text>
<text transform="translate(487.00,1161.30) rotate(-60)" font-size="8.2" text-anchor="end" fill="#303030">Romania</text>
<text transform="translate(498.15,1161.30) rotate(-60)" font-size="8.2" text-anchor="end" fill="#303030">South Korea</text>
<text transform="translate(509.30,1161.30) rotate(-60)" font-size="8.2" text-anchor="end" fill="#303030">El Salvador</text>
<text transform="translate(520.45,1161.30) rotate(-60)" font-size="8.2" text-anchor="end" fill="#303030">Belarus</text>
<text transform="translate(531.60,1161.30) rotate(-60)" font-size="8.2" text-anchor="end" fill="#303030">Uruguay</text>
<text transform="translate(542.75,1161.30) rotate(-60)" font-size="8.2" text-anchor="end" fill="#303030">China</text>
<text transform="translate(553.90,1161.30) rotate(-60)" font-size="8.2" text-anchor="end" fill="#303030">Colombia</text>
<text transform="translate(565.05,1161.30) rotate(-60)" font-size="8.2" text-anchor="end" fill="#303030">Ecuador</text>
<text transform="translate(576.20,1161.30) rotate(-60)" font-size="8.2" text-anchor="end" fill="#303030">Monaco</text>
<text transform="translate(587.35,1161.30) rotate(-60)" font-size="8.2" text-anchor="end" fill="#303030">Guatemala</text>
<text transform="translate(598.50,1161.30) rotate(-60)" font-size="8.2" text-anchor="end" fill="#303030">Luxembourg</text>
<text transform="translate(609.65,1161.30) rotate(-60)" font-size="8.2" text-anchor="end" fill="#303030">Morocco</text>
<text transform="translate(620.80,1161.30) rotate(-60)" font-size="8.2" text-anchor="end" fill="#303030">Serbia</text>
<text transform="translate(631.95,1161.30) rotate(-60)" font-size="8.2" text-anchor="end" fill="#303030">Northern Mariana Islands</text>
<text transform="translate(643.10,1161.30) rotate(-60)" font-size="8.2" text-anchor="end" fill="#303030">New Caledonia</text>
<text transform="translate(654.25,1161.30) rotate(-60)" font-size="8.2" text-anchor="end" fill="#303030">United Arab Emirates</text>
<text transform="translate(665.40,1161.30) rotate(-60)" font-size="8.2" text-anchor="end" fill="#303030">Chad</text>
<text transform="translate(676.55,1161.30) rotate(-60)" font-size="8.2" text-anchor="end" fill="#303030">Panama</text>
</svg>
</body></html>
